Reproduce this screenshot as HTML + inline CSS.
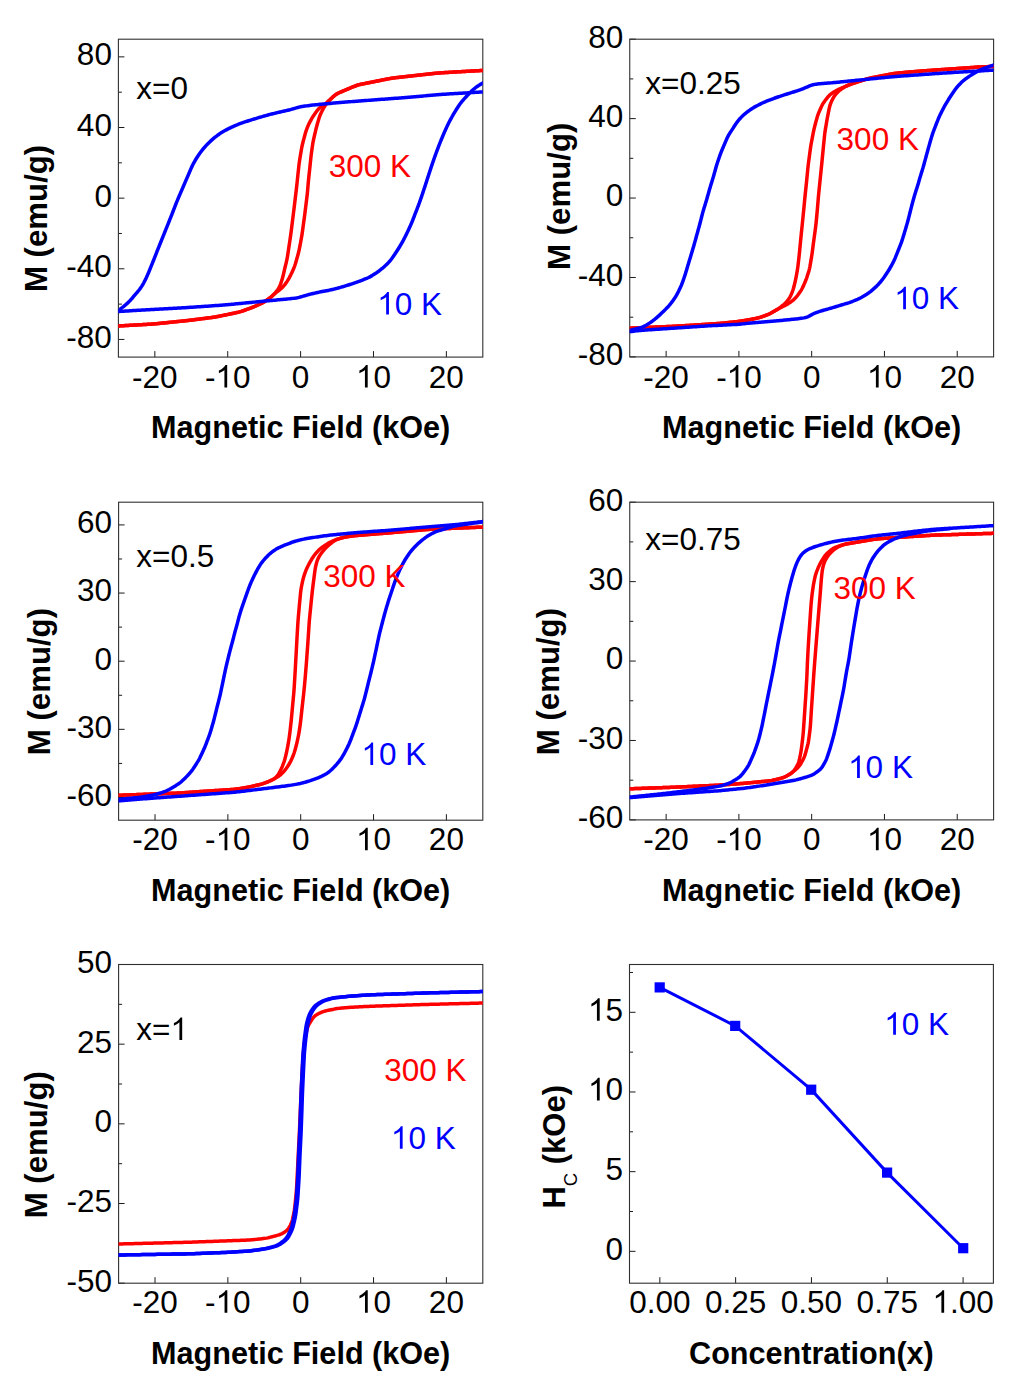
<!DOCTYPE html>
<html><head><meta charset="utf-8"><title>Hysteresis loops</title>
<style>html,body{margin:0;padding:0;background:#fff;overflow:hidden}svg{display:block}</style>
</head><body>
<svg width="1015" height="1384" viewBox="0 0 1015 1384">
<style>.r{font-kerning:none;font-family:"Liberation Sans",sans-serif;font-size:31.50px}.b{font-family:"Liberation Sans",sans-serif;font-size:30.60px;font-weight:bold}</style>
<rect width="1015" height="1384" fill="#fff"/>
<clipPath id="c1"><rect x="118.40" y="39.20" width="364.40" height="317.90"/></clipPath>
<path d="M154.84,357.10V351.10M227.72,357.10V351.10M300.60,357.10V351.10M373.48,357.10V351.10M446.36,357.10V351.10M118.40,56.86H124.40M118.40,127.51H124.40M118.40,198.15H124.40M118.40,268.79H124.40M118.40,339.44H124.40M118.40,92.18H121.90M118.40,162.83H121.90M118.40,233.47H121.90M118.40,304.12H121.90" stroke="#1a1a1a" stroke-width="1" fill="none"/>
<rect x="118.40" y="39.20" width="364.40" height="317.90" fill="none" stroke="#303030" stroke-width="1.1"/>
<text x="132.08" y="387.60" class="r" fill="#000" xml:space="preserve">-20</text>
<text x="204.96" y="387.60" class="r" fill="#000">-</text><path d="M763,0L583,0L583,1147C540,1106 483,1064 413,1023C343,982 280,951 224,930L224,1104C325,1151 413,1208 489,1274C565,1340 619,1404 650,1466L763,1466Z" fill="#000" transform="translate(215.45,387.60) scale(0.015381,-0.015381)"/><text x="232.96" y="387.60" class="r" fill="#000" xml:space="preserve">0</text>
<text x="291.84" y="387.60" class="r" fill="#000" xml:space="preserve">0</text>
<path d="M763,0L583,0L583,1147C540,1106 483,1064 413,1023C343,982 280,951 224,930L224,1104C325,1151 413,1208 489,1274C565,1340 619,1404 650,1466L763,1466Z" fill="#000" transform="translate(355.96,387.60) scale(0.015381,-0.015381)"/><text x="373.48" y="387.60" class="r" fill="#000" xml:space="preserve">0</text>
<text x="428.84" y="387.60" class="r" fill="#000" xml:space="preserve">20</text>
<text x="76.86" y="65.26" class="r" fill="#000" xml:space="preserve">80</text>
<text x="76.86" y="135.91" class="r" fill="#000" xml:space="preserve">40</text>
<text x="94.38" y="206.55" class="r" fill="#000" xml:space="preserve">0</text>
<text x="66.37" y="277.19" class="r" fill="#000" xml:space="preserve">-40</text>
<text x="66.37" y="347.84" class="r" fill="#000" xml:space="preserve">-80</text>
<path d="M483.00,70.40 L481.50,70.49 L480.00,70.57 L478.50,70.66 L477.00,70.74 L475.51,70.83 L474.01,70.92 L472.51,71.00 L471.01,71.09 L469.51,71.18 L468.01,71.26 L466.51,71.35 L465.01,71.43 L463.52,71.52 L462.02,71.61 L460.52,71.69 L459.02,71.78 L457.52,71.87 L456.02,71.95 L454.52,72.04 L453.02,72.12 L451.52,72.21 L450.03,72.30 L448.53,72.38 L447.03,72.47 L445.53,72.56 L444.03,72.64 L442.53,72.73 L441.03,72.82 L439.54,72.92 L438.04,73.03 L436.54,73.17 L435.05,73.31 L433.56,73.47 L432.07,73.64 L430.57,73.80 L429.08,73.97 L427.59,74.13 L426.10,74.30 L424.60,74.47 L423.11,74.63 L421.62,74.80 L420.13,74.96 L418.64,75.13 L417.14,75.30 L415.65,75.46 L414.16,75.63 L412.67,75.79 L411.18,75.96 L409.68,76.12 L408.19,76.29 L406.70,76.46 L405.21,76.62 L403.72,76.79 L402.22,76.95 L400.73,77.12 L399.24,77.28 L397.75,77.45 L396.26,77.62 L394.76,77.79 L393.28,77.99 L391.79,78.20 L390.31,78.45 L388.84,78.72 L387.36,79.01 L385.89,79.30 L384.42,79.60 L382.95,79.89 L381.47,80.19 L380.00,80.48 L378.53,80.77 L377.06,81.07 L375.59,81.36 L374.11,81.66 L372.64,81.95 L371.17,82.25 L369.70,82.54 L368.23,82.83 L366.75,83.13 L365.28,83.42 L363.81,83.72 L362.34,84.02 L360.87,84.32 L359.41,84.66 L357.96,85.04 L356.54,85.49 L355.13,86.00 L353.74,86.55 L352.35,87.12 L350.97,87.70 L349.59,88.29 L348.20,88.87 L346.82,89.45 L345.43,90.03 L344.05,90.61 L342.67,91.20 L341.28,91.78 L339.91,92.37 L338.55,92.99 L337.23,93.68 L335.97,94.45 L334.78,95.33 L333.65,96.30 L332.55,97.31 L331.46,98.34 L330.37,99.37 L329.28,100.40 L328.16,101.40 L327.02,102.37 L325.84,103.29 L324.63,104.18 L323.41,105.04 L322.18,105.90 L320.98,106.78 L319.82,107.71 L318.75,108.73 L317.76,109.84 L316.84,111.00 L315.94,112.21 L315.07,113.42 L314.21,114.65 L313.37,115.90 L312.58,117.17 L311.82,118.46 L311.08,119.77 L310.37,121.08 L309.67,122.41 L308.99,123.75 L308.35,125.11 L307.76,126.48 L307.19,127.87 L306.66,129.27 L306.16,130.69 L305.70,132.11 L305.28,133.55 L304.88,135.00 L304.49,136.45 L304.11,137.90 L303.73,139.35 L303.34,140.80 L302.97,142.26 L302.60,143.71 L302.25,145.17 L301.94,146.64 L301.65,148.11 L301.39,149.59 L301.13,151.07 L300.89,152.55 L300.64,154.03 L300.39,155.51 L300.14,156.99 L299.90,158.47 L299.66,159.95 L299.44,161.44 L299.23,162.92 L299.05,164.41 L298.87,165.90 L298.71,167.39 L298.54,168.89 L298.38,170.38 L298.22,171.87 L298.06,173.36 L297.90,174.86 L297.75,176.35 L297.59,177.84 L297.43,179.34 L297.28,180.83 L297.12,182.32 L296.96,183.82 L296.80,185.31 L296.64,186.80 L296.47,188.29 L296.30,189.78 L296.12,191.28 L295.94,192.77 L295.76,194.26 L295.58,195.75 L295.40,197.24 L295.22,198.73 L295.04,200.22 L294.86,201.71 L294.68,203.20 L294.50,204.69 L294.32,206.18 L294.14,207.67 L293.96,209.16 L293.78,210.65 L293.59,212.14 L293.41,213.63 L293.22,215.12 L293.03,216.61 L292.85,218.10 L292.66,219.59 L292.47,221.08 L292.28,222.57 L292.10,224.06 L291.91,225.55 L291.72,227.04 L291.54,228.53 L291.35,230.02 L291.16,231.51 L290.96,232.99 L290.76,234.48 L290.54,235.97 L290.33,237.45 L290.11,238.94 L289.89,240.42 L289.67,241.91 L289.45,243.39 L289.23,244.88 L289.01,246.36 L288.79,247.85 L288.57,249.33 L288.35,250.82 L288.12,252.30 L287.89,253.79 L287.66,255.27 L287.42,256.75 L287.16,258.23 L286.87,259.70 L286.56,261.17 L286.22,262.63 L285.86,264.09 L285.50,265.54 L285.14,267.00 L284.79,268.46 L284.45,269.92 L284.11,271.39 L283.78,272.85 L283.44,274.31 L283.09,275.77 L282.71,277.22 L282.31,278.67 L281.88,280.11 L281.44,281.54 L280.98,282.97 L280.47,284.37 L279.90,285.75 L279.24,287.08 L278.50,288.37 L277.69,289.63 L276.84,290.85 L275.93,292.04 L274.96,293.17 L273.94,294.26 L272.87,295.31 L271.77,296.33 L270.63,297.30 L269.46,298.23 L268.26,299.13 L267.03,299.99 L265.79,300.84 L264.53,301.64 L263.24,302.38 L261.91,303.08 L260.56,303.74 L259.21,304.38 L257.85,305.01 L256.48,305.64 L255.11,306.25 L253.73,306.83 L252.34,307.39 L250.94,307.93 L249.53,308.44 L248.12,308.96 L246.71,309.47 L245.29,309.98 L243.88,310.49 L242.46,310.98 L241.04,311.44 L239.60,311.86 L238.15,312.24 L236.69,312.57 L235.22,312.89 L233.75,313.20 L232.29,313.51 L230.82,313.81 L229.35,314.12 L227.88,314.42 L226.41,314.73 L224.94,315.04 L223.47,315.34 L222.00,315.65 L220.53,315.95 L219.06,316.25 L217.58,316.54 L216.11,316.82 L214.63,317.06 L213.14,317.28 L211.66,317.49 L210.17,317.68 L208.68,317.87 L207.19,318.06 L205.70,318.25 L204.21,318.44 L202.72,318.63 L201.23,318.82 L199.74,319.01 L198.26,319.20 L196.77,319.39 L195.28,319.58 L193.79,319.77 L192.30,319.96 L190.81,320.15 L189.32,320.33 L187.83,320.50 L186.33,320.66 L184.84,320.81 L183.35,320.96 L181.85,321.12 L180.36,321.27 L178.87,321.42 L177.37,321.57 L175.88,321.72 L174.39,321.88 L172.89,322.03 L171.40,322.18 L169.90,322.33 L168.41,322.48 L166.92,322.64 L165.42,322.79 L163.93,322.94 L162.44,323.09 L160.94,323.24 L159.45,323.39 L157.96,323.55 L156.46,323.69 L154.97,323.83 L153.47,323.96 L151.97,324.07 L150.48,324.16 L148.98,324.25 L147.48,324.34 L145.98,324.42 L144.48,324.51 L142.98,324.59 L141.48,324.68 L139.98,324.76 L138.49,324.85 L136.99,324.93 L135.49,325.01 L133.99,325.10 L132.49,325.18 L130.99,325.27 L129.49,325.35 L127.99,325.44 L126.49,325.52 L125.00,325.61 L123.50,325.69 L122.00,325.77 L120.50,325.86 L119.00,325.94 L118.00,326.00" stroke="#ff0000" stroke-width="3.5" fill="none" stroke-linejoin="round" stroke-linecap="round" clip-path="url(#c1)"/>
<path d="M118.00,326.00 L119.50,325.92 L121.00,325.83 L122.49,325.75 L123.99,325.66 L125.49,325.58 L126.99,325.49 L128.48,325.41 L129.98,325.33 L131.48,325.24 L132.98,325.16 L134.47,325.07 L135.97,324.99 L137.47,324.90 L138.97,324.82 L140.46,324.73 L141.96,324.65 L143.46,324.57 L144.96,324.48 L146.46,324.40 L147.95,324.31 L149.45,324.23 L150.95,324.14 L152.44,324.03 L153.94,323.92 L155.43,323.79 L156.93,323.65 L158.42,323.50 L159.91,323.35 L161.40,323.20 L162.90,323.04 L164.39,322.89 L165.88,322.74 L167.37,322.59 L168.87,322.44 L170.36,322.29 L171.85,322.13 L173.34,321.98 L174.83,321.83 L176.33,321.68 L177.82,321.53 L179.31,321.38 L180.80,321.22 L182.30,321.07 L183.79,320.92 L185.28,320.77 L186.77,320.61 L188.26,320.45 L189.75,320.27 L191.24,320.09 L192.73,319.91 L194.22,319.72 L195.71,319.53 L197.20,319.34 L198.68,319.15 L200.17,318.96 L201.66,318.77 L203.15,318.58 L204.63,318.39 L206.12,318.20 L207.61,318.01 L209.10,317.82 L210.59,317.63 L212.07,317.43 L213.56,317.22 L215.04,317.00 L216.52,316.74 L217.99,316.47 L219.46,316.17 L220.93,315.87 L222.40,315.56 L223.87,315.26 L225.34,314.95 L226.80,314.65 L228.27,314.34 L229.74,314.04 L231.21,313.73 L232.68,313.42 L234.15,313.12 L235.61,312.81 L237.08,312.49 L238.54,312.14 L239.98,311.76 L241.41,311.33 L242.84,310.85 L244.25,310.36 L245.66,309.85 L247.07,309.34 L248.48,308.83 L249.89,308.31 L251.30,307.79 L252.70,307.25 L254.08,306.69 L255.46,306.09 L256.83,305.48 L258.19,304.85 L259.55,304.22 L260.90,303.57 L262.24,302.91 L263.56,302.20 L264.85,301.44 L266.10,300.63 L267.34,299.78 L268.55,298.91 L269.75,298.01 L270.91,297.07 L272.04,296.09 L273.15,295.08 L274.25,294.07 L275.38,293.09 L276.55,292.16 L277.74,291.27 L278.95,290.39 L280.12,289.47 L281.23,288.49 L282.30,287.45 L283.32,286.35 L284.29,285.23 L285.23,284.06 L286.11,282.85 L286.94,281.61 L287.74,280.34 L288.51,279.06 L289.26,277.76 L289.97,276.44 L290.65,275.11 L291.30,273.76 L291.94,272.40 L292.57,271.04 L293.19,269.67 L293.78,268.30 L294.33,266.91 L294.84,265.50 L295.30,264.08 L295.73,262.64 L296.15,261.20 L296.57,259.76 L296.97,258.32 L297.37,256.87 L297.77,255.42 L298.16,253.98 L298.53,252.52 L298.88,251.07 L299.21,249.60 L299.51,248.13 L299.79,246.66 L300.07,245.19 L300.35,243.71 L300.63,242.24 L300.90,240.77 L301.18,239.29 L301.44,237.81 L301.70,236.34 L301.93,234.86 L302.15,233.37 L302.37,231.89 L302.57,230.40 L302.78,228.92 L302.98,227.43 L303.19,225.94 L303.39,224.46 L303.60,222.97 L303.80,221.49 L304.01,220.00 L304.21,218.51 L304.42,217.03 L304.61,215.54 L304.81,214.05 L305.00,212.57 L305.18,211.08 L305.37,209.59 L305.55,208.10 L305.73,206.61 L305.92,205.12 L306.10,203.63 L306.28,202.15 L306.47,200.66 L306.65,199.17 L306.83,197.68 L307.01,196.19 L307.19,194.70 L307.35,193.21 L307.50,191.72 L307.64,190.22 L307.77,188.73 L307.89,187.23 L308.02,185.74 L308.14,184.24 L308.27,182.75 L308.41,181.26 L308.55,179.76 L308.70,178.27 L308.86,176.78 L309.02,175.29 L309.18,173.80 L309.34,172.31 L309.51,170.81 L309.66,169.32 L309.82,167.83 L309.98,166.34 L310.13,164.85 L310.28,163.35 L310.44,161.86 L310.59,160.37 L310.75,158.88 L310.91,157.39 L311.08,155.90 L311.26,154.41 L311.45,152.92 L311.65,151.43 L311.86,149.95 L312.06,148.46 L312.27,146.98 L312.48,145.49 L312.71,144.01 L312.96,142.53 L313.25,141.06 L313.56,139.60 L313.88,138.13 L314.22,136.67 L314.55,135.21 L314.89,133.75 L315.23,132.28 L315.57,130.82 L315.91,129.36 L316.28,127.91 L316.66,126.46 L317.06,125.01 L317.47,123.57 L317.88,122.13 L318.30,120.69 L318.73,119.25 L319.17,117.82 L319.65,116.40 L320.18,115.01 L320.77,113.64 L321.41,112.28 L322.07,110.93 L322.76,109.60 L323.47,108.29 L324.23,106.99 L325.02,105.72 L325.85,104.49 L326.74,103.29 L327.69,102.14 L328.71,101.05 L329.76,99.98 L330.84,98.94 L331.92,97.90 L333.01,96.88 L334.12,95.88 L335.27,94.95 L336.49,94.11 L337.77,93.38 L339.11,92.73 L340.48,92.13 L341.86,91.54 L343.24,90.96 L344.62,90.37 L346.00,89.79 L347.39,89.21 L348.77,88.63 L350.15,88.05 L351.54,87.47 L352.92,86.89 L354.31,86.32 L355.70,85.78 L357.11,85.30 L358.55,84.88 L360.00,84.52 L361.46,84.20 L362.93,83.90 L364.40,83.60 L365.87,83.31 L367.34,83.01 L368.81,82.72 L370.28,82.42 L371.75,82.13 L373.23,81.83 L374.70,81.54 L376.17,81.25 L377.64,80.95 L379.11,80.66 L380.58,80.36 L382.05,80.07 L383.52,79.78 L384.99,79.48 L386.46,79.19 L387.93,78.90 L389.41,78.62 L390.88,78.35 L392.36,78.12 L393.85,77.91 L395.34,77.73 L396.83,77.55 L398.32,77.39 L399.81,77.22 L401.30,77.06 L402.79,76.89 L404.28,76.72 L405.77,76.56 L407.26,76.39 L408.75,76.23 L410.24,76.06 L411.73,75.90 L413.22,75.73 L414.72,75.56 L416.21,75.40 L417.70,75.23 L419.19,75.07 L420.68,74.90 L422.17,74.74 L423.66,74.57 L425.15,74.41 L426.64,74.24 L428.13,74.07 L429.62,73.91 L431.11,73.74 L432.61,73.58 L434.10,73.42 L435.59,73.26 L437.08,73.12 L438.58,72.99 L440.07,72.88 L441.57,72.79 L443.07,72.70 L444.56,72.61 L446.06,72.52 L447.56,72.44 L449.06,72.35 L450.55,72.27 L452.05,72.18 L453.55,72.09 L455.05,72.01 L456.54,71.92 L458.04,71.84 L459.54,71.75 L461.04,71.66 L462.53,71.58 L464.03,71.49 L465.53,71.40 L467.03,71.32 L468.52,71.23 L470.02,71.15 L471.52,71.06 L473.02,70.97 L474.51,70.89 L476.01,70.80 L477.51,70.72 L479.01,70.63 L480.50,70.54 L482.00,70.46 L483.00,70.40" stroke="#ff0000" stroke-width="3.5" fill="none" stroke-linejoin="round" stroke-linecap="round" clip-path="url(#c1)"/>
<path d="M483.00,91.90 L481.50,91.99 L480.01,92.08 L478.51,92.17 L477.01,92.26 L475.51,92.34 L474.02,92.43 L472.52,92.52 L471.02,92.61 L469.52,92.70 L468.03,92.79 L466.53,92.88 L465.03,92.97 L463.53,93.06 L462.04,93.15 L460.54,93.23 L459.04,93.32 L457.54,93.41 L456.05,93.50 L454.55,93.59 L453.05,93.68 L451.55,93.77 L450.06,93.86 L448.56,93.95 L447.06,94.04 L445.56,94.13 L444.07,94.22 L442.57,94.33 L441.07,94.45 L439.58,94.57 L438.08,94.70 L436.59,94.83 L435.10,94.96 L433.60,95.09 L432.11,95.22 L430.61,95.35 L429.12,95.48 L427.62,95.61 L426.13,95.75 L424.63,95.88 L423.14,96.01 L421.65,96.14 L420.15,96.27 L418.66,96.40 L417.16,96.53 L415.67,96.66 L414.17,96.79 L412.68,96.93 L411.19,97.06 L409.69,97.19 L408.20,97.32 L406.70,97.45 L405.21,97.57 L403.71,97.69 L402.22,97.80 L400.72,97.92 L399.22,98.03 L397.73,98.14 L396.23,98.25 L394.74,98.36 L393.24,98.47 L391.74,98.58 L390.25,98.70 L388.75,98.81 L387.26,98.92 L385.76,99.03 L384.26,99.14 L382.77,99.25 L381.27,99.36 L379.78,99.47 L378.28,99.58 L376.78,99.70 L375.29,99.81 L373.79,99.92 L372.30,100.03 L370.80,100.14 L369.30,100.25 L367.81,100.37 L366.31,100.48 L364.82,100.60 L363.32,100.71 L361.82,100.83 L360.33,100.94 L358.83,101.06 L357.34,101.17 L355.84,101.29 L354.35,101.40 L352.85,101.51 L351.35,101.63 L349.86,101.74 L348.36,101.86 L346.87,101.97 L345.37,102.09 L343.88,102.20 L342.38,102.32 L340.89,102.44 L339.39,102.57 L337.90,102.70 L336.40,102.84 L334.91,102.97 L333.41,103.11 L331.92,103.25 L330.43,103.39 L328.93,103.53 L327.44,103.67 L325.95,103.81 L324.45,103.94 L322.96,104.08 L321.47,104.22 L319.97,104.36 L318.48,104.50 L316.98,104.64 L315.49,104.78 L314.00,104.93 L312.51,105.09 L311.02,105.27 L309.53,105.46 L308.04,105.66 L306.56,105.87 L305.07,106.08 L303.59,106.30 L302.11,106.54 L300.64,106.82 L299.18,107.14 L297.73,107.52 L296.29,107.92 L294.85,108.34 L293.41,108.77 L291.97,109.18 L290.52,109.57 L289.07,109.94 L287.61,110.30 L286.15,110.64 L284.69,110.97 L283.23,111.30 L281.76,111.64 L280.30,111.98 L278.84,112.32 L277.38,112.66 L275.92,113.01 L274.46,113.35 L273.00,113.70 L271.54,114.06 L270.09,114.42 L268.64,114.81 L267.19,115.20 L265.75,115.61 L264.31,116.02 L262.86,116.43 L261.42,116.84 L259.98,117.26 L258.54,117.68 L257.11,118.11 L255.67,118.55 L254.23,118.98 L252.80,119.42 L251.37,119.86 L249.93,120.31 L248.51,120.77 L247.08,121.24 L245.66,121.71 L244.24,122.20 L242.82,122.68 L241.40,123.18 L239.99,123.68 L238.59,124.21 L237.19,124.76 L235.81,125.34 L234.44,125.94 L233.07,126.55 L231.70,127.17 L230.34,127.80 L228.99,128.45 L227.66,129.13 L226.34,129.84 L225.02,130.56 L223.72,131.30 L222.42,132.05 L221.14,132.83 L219.88,133.64 L218.66,134.50 L217.45,135.39 L216.26,136.30 L215.08,137.23 L213.92,138.18 L212.79,139.15 L211.66,140.15 L210.56,141.16 L209.46,142.19 L208.39,143.23 L207.34,144.30 L206.30,145.39 L205.29,146.49 L204.29,147.61 L203.32,148.75 L202.37,149.91 L201.44,151.09 L200.54,152.28 L199.65,153.49 L198.79,154.72 L197.95,155.96 L197.14,157.22 L196.34,158.49 L195.57,159.77 L194.82,161.07 L194.09,162.38 L193.38,163.70 L192.69,165.03 L192.03,166.38 L191.40,167.74 L190.79,169.11 L190.21,170.49 L189.62,171.87 L189.03,173.25 L188.44,174.63 L187.84,176.00 L187.24,177.38 L186.64,178.75 L186.05,180.13 L185.45,181.51 L184.86,182.88 L184.27,184.26 L183.68,185.64 L183.10,187.02 L182.51,188.40 L181.91,189.78 L181.32,191.16 L180.73,192.54 L180.13,193.91 L179.54,195.29 L178.95,196.67 L178.36,198.05 L177.78,199.43 L177.19,200.82 L176.62,202.20 L176.06,203.59 L175.51,204.99 L174.97,206.39 L174.43,207.79 L173.90,209.19 L173.36,210.59 L172.81,211.99 L172.27,213.38 L171.72,214.78 L171.17,216.18 L170.62,217.57 L170.07,218.97 L169.51,220.36 L168.96,221.75 L168.40,223.15 L167.84,224.54 L167.28,225.93 L166.72,227.32 L166.16,228.71 L165.60,230.10 L165.03,231.50 L164.47,232.89 L163.91,234.28 L163.35,235.67 L162.80,237.06 L162.24,238.45 L161.68,239.85 L161.12,241.24 L160.56,242.63 L160.00,244.02 L159.44,245.41 L158.88,246.80 L158.32,248.20 L157.76,249.59 L157.21,250.98 L156.66,252.38 L156.12,253.78 L155.57,255.18 L155.03,256.57 L154.48,257.97 L153.92,259.36 L153.36,260.75 L152.80,262.15 L152.24,263.54 L151.68,264.93 L151.12,266.32 L150.56,267.71 L150.00,269.10 L149.44,270.49 L148.87,271.88 L148.29,273.27 L147.70,274.64 L147.09,276.02 L146.47,277.38 L145.84,278.74 L145.19,280.09 L144.51,281.43 L143.80,282.75 L143.06,284.05 L142.29,285.34 L141.50,286.61 L140.68,287.86 L139.80,289.07 L138.88,290.25 L137.92,291.40 L136.95,292.53 L135.97,293.67 L134.99,294.81 L134.02,295.95 L133.06,297.11 L132.10,298.26 L131.13,299.39 L130.13,300.51 L129.10,301.59 L128.03,302.65 L126.93,303.67 L125.81,304.66 L124.66,305.62 L123.50,306.57 L122.33,307.51 L121.15,308.44 L119.97,309.36 L118.79,310.29 L118.00,310.90" stroke="#0000ff" stroke-width="3.5" fill="none" stroke-linejoin="round" stroke-linecap="round" clip-path="url(#c1)"/>
<path d="M118.00,311.50 L119.50,311.41 L121.00,311.32 L122.49,311.23 L123.99,311.14 L125.49,311.06 L126.99,310.97 L128.48,310.88 L129.98,310.79 L131.48,310.70 L132.98,310.61 L134.48,310.52 L135.97,310.43 L137.47,310.34 L138.97,310.25 L140.47,310.17 L141.97,310.08 L143.46,309.99 L144.96,309.90 L146.46,309.81 L147.96,309.72 L149.45,309.64 L150.95,309.55 L152.45,309.47 L153.95,309.38 L155.45,309.30 L156.94,309.22 L158.44,309.13 L159.94,309.05 L161.44,308.97 L162.94,308.89 L164.44,308.80 L165.93,308.72 L167.43,308.64 L168.93,308.55 L170.43,308.47 L171.93,308.39 L173.42,308.31 L174.92,308.22 L176.42,308.14 L177.92,308.06 L179.42,307.97 L180.92,307.89 L182.41,307.81 L183.91,307.73 L185.41,307.64 L186.91,307.55 L188.41,307.46 L189.90,307.37 L191.40,307.27 L192.90,307.16 L194.39,307.06 L195.89,306.96 L197.39,306.86 L198.88,306.75 L200.38,306.65 L201.88,306.55 L203.38,306.44 L204.87,306.34 L206.37,306.24 L207.87,306.14 L209.36,306.03 L210.86,305.93 L212.36,305.83 L213.85,305.72 L215.35,305.62 L216.85,305.52 L218.34,305.42 L219.84,305.31 L221.34,305.21 L222.83,305.10 L224.33,304.98 L225.83,304.85 L227.32,304.71 L228.81,304.57 L230.31,304.43 L231.80,304.29 L233.29,304.14 L234.79,304.00 L236.28,303.85 L237.77,303.71 L239.27,303.56 L240.76,303.42 L242.26,303.28 L243.75,303.13 L245.24,302.99 L246.74,302.84 L248.23,302.70 L249.72,302.56 L251.22,302.41 L252.71,302.27 L254.20,302.12 L255.70,301.98 L257.19,301.83 L258.68,301.69 L260.18,301.55 L261.67,301.40 L263.16,301.26 L264.66,301.11 L266.15,300.97 L267.65,300.83 L269.14,300.69 L270.63,300.55 L272.13,300.41 L273.62,300.27 L275.12,300.14 L276.61,300.00 L278.10,299.86 L279.60,299.72 L281.09,299.58 L282.59,299.45 L284.08,299.31 L285.57,299.17 L287.07,299.03 L288.56,298.88 L290.05,298.72 L291.54,298.55 L293.03,298.37 L294.52,298.18 L296.00,297.96 L297.47,297.69 L298.93,297.37 L300.38,296.99 L301.82,296.58 L303.26,296.16 L304.70,295.73 L306.14,295.31 L307.58,294.89 L309.03,294.50 L310.48,294.13 L311.94,293.78 L313.40,293.43 L314.86,293.10 L316.33,292.77 L317.79,292.44 L319.26,292.12 L320.72,291.82 L322.20,291.53 L323.67,291.25 L325.15,290.98 L326.62,290.71 L328.10,290.43 L329.56,290.13 L331.03,289.80 L332.49,289.46 L333.95,289.10 L335.40,288.73 L336.85,288.36 L338.31,287.98 L339.75,287.59 L341.20,287.18 L342.64,286.75 L344.07,286.32 L345.51,285.88 L346.94,285.44 L348.37,284.99 L349.80,284.53 L351.22,284.06 L352.65,283.58 L354.07,283.10 L355.49,282.61 L356.90,282.12 L358.32,281.62 L359.73,281.10 L361.13,280.57 L362.53,280.03 L363.92,279.48 L365.31,278.92 L366.70,278.35 L368.07,277.74 L369.41,277.09 L370.73,276.38 L372.02,275.62 L373.29,274.83 L374.56,274.02 L375.81,273.20 L377.05,272.36 L378.27,271.48 L379.46,270.58 L380.65,269.67 L381.83,268.74 L382.99,267.79 L384.12,266.81 L385.23,265.80 L386.31,264.76 L387.37,263.71 L388.42,262.63 L389.43,261.53 L390.39,260.39 L391.32,259.21 L392.21,258.01 L393.08,256.79 L393.94,255.56 L394.79,254.32 L395.62,253.07 L396.44,251.81 L397.24,250.55 L398.05,249.28 L398.84,248.01 L399.62,246.73 L400.39,245.44 L401.15,244.14 L401.89,242.84 L402.63,241.53 L403.35,240.22 L404.05,238.89 L404.74,237.56 L405.41,236.22 L406.08,234.88 L406.74,233.53 L407.39,232.18 L408.04,230.82 L408.67,229.46 L409.30,228.10 L409.92,226.73 L410.53,225.37 L411.14,223.99 L411.73,222.61 L412.30,221.23 L412.85,219.83 L413.39,218.43 L413.93,217.03 L414.47,215.63 L415.00,214.23 L415.55,212.83 L416.09,211.43 L416.64,210.04 L417.19,208.64 L417.73,207.24 L418.27,205.84 L418.79,204.43 L419.30,203.02 L419.80,201.61 L420.30,200.19 L420.79,198.78 L421.28,197.36 L421.77,195.94 L422.25,194.52 L422.72,193.09 L423.20,191.67 L423.67,190.25 L424.14,188.82 L424.60,187.39 L425.07,185.97 L425.54,184.54 L426.00,183.12 L426.46,181.69 L426.93,180.26 L427.39,178.83 L427.85,177.41 L428.31,175.98 L428.78,174.55 L429.24,173.12 L429.70,171.70 L430.16,170.27 L430.63,168.84 L431.10,167.42 L431.57,165.99 L432.05,164.57 L432.54,163.15 L433.03,161.74 L433.52,160.32 L434.01,158.90 L434.51,157.48 L435.01,156.07 L435.52,154.66 L436.04,153.25 L436.56,151.84 L437.09,150.44 L437.61,149.03 L438.14,147.63 L438.67,146.22 L439.21,144.82 L439.75,143.43 L440.31,142.03 L440.87,140.64 L441.44,139.25 L442.01,137.87 L442.58,136.48 L443.16,135.09 L443.75,133.72 L444.35,132.34 L444.96,130.97 L445.58,129.60 L446.20,128.24 L446.82,126.87 L447.45,125.51 L448.10,124.16 L448.78,122.82 L449.47,121.49 L450.18,120.17 L450.89,118.85 L451.61,117.53 L452.33,116.22 L453.07,114.91 L453.82,113.61 L454.59,112.32 L455.38,111.05 L456.18,109.78 L456.99,108.52 L457.80,107.26 L458.62,106.00 L459.46,104.76 L460.33,103.54 L461.24,102.36 L462.20,101.20 L463.17,100.06 L464.16,98.93 L465.15,97.81 L466.16,96.70 L467.18,95.59 L468.21,94.50 L469.25,93.43 L470.30,92.36 L471.36,91.30 L472.45,90.27 L473.56,89.27 L474.72,88.32 L475.91,87.42 L477.13,86.54 L478.36,85.69 L479.62,84.88 L480.91,84.12 L482.22,83.41 L483.55,82.72 L484.00,82.50" stroke="#0000ff" stroke-width="3.5" fill="none" stroke-linejoin="round" stroke-linecap="round" clip-path="url(#c1)"/>
<text transform="translate(47.20,218.40) rotate(-90)" text-anchor="middle" class="b" style="font-size:31.2px">M (emu/g)</text>
<text x="300.60" y="438.40" text-anchor="middle" class="b">Magnetic Field (kOe)</text>
<clipPath id="c2"><rect x="629.75" y="39.20" width="363.85" height="317.70"/></clipPath>
<path d="M666.13,356.90V350.90M738.90,356.90V350.90M811.67,356.90V350.90M884.44,356.90V350.90M957.22,356.90V350.90M629.75,39.20H635.75M629.75,118.62H635.75M629.75,198.05H635.75M629.75,277.47H635.75M629.75,356.90H635.75M629.75,78.91H633.25M629.75,158.34H633.25M629.75,237.76H633.25M629.75,317.19H633.25" stroke="#1a1a1a" stroke-width="1" fill="none"/>
<rect x="629.75" y="39.20" width="363.85" height="317.70" fill="none" stroke="#303030" stroke-width="1.1"/>
<text x="643.37" y="387.60" class="r" fill="#000" xml:space="preserve">-20</text>
<text x="716.14" y="387.60" class="r" fill="#000">-</text><path d="M763,0L583,0L583,1147C540,1106 483,1064 413,1023C343,982 280,951 224,930L224,1104C325,1151 413,1208 489,1274C565,1340 619,1404 650,1466L763,1466Z" fill="#000" transform="translate(726.63,387.60) scale(0.015381,-0.015381)"/><text x="744.15" y="387.60" class="r" fill="#000" xml:space="preserve">0</text>
<text x="802.92" y="387.60" class="r" fill="#000" xml:space="preserve">0</text>
<path d="M763,0L583,0L583,1147C540,1106 483,1064 413,1023C343,982 280,951 224,930L224,1104C325,1151 413,1208 489,1274C565,1340 619,1404 650,1466L763,1466Z" fill="#000" transform="translate(866.93,387.60) scale(0.015381,-0.015381)"/><text x="884.44" y="387.60" class="r" fill="#000" xml:space="preserve">0</text>
<text x="939.70" y="387.60" class="r" fill="#000" xml:space="preserve">20</text>
<text x="588.21" y="47.60" class="r" fill="#000" xml:space="preserve">80</text>
<text x="588.21" y="127.03" class="r" fill="#000" xml:space="preserve">40</text>
<text x="605.73" y="206.45" class="r" fill="#000" xml:space="preserve">0</text>
<text x="577.72" y="285.87" class="r" fill="#000" xml:space="preserve">-40</text>
<text x="577.72" y="365.30" class="r" fill="#000" xml:space="preserve">-80</text>
<path d="M994.00,66.40 L992.50,66.46 L991.00,66.51 L989.50,66.57 L988.00,66.63 L986.50,66.68 L985.00,66.74 L983.50,66.80 L982.00,66.87 L980.50,66.94 L979.01,67.03 L977.51,67.12 L976.01,67.22 L974.51,67.32 L973.02,67.43 L971.52,67.53 L970.02,67.63 L968.53,67.74 L967.03,67.84 L965.53,67.94 L964.03,68.04 L962.54,68.15 L961.04,68.25 L959.54,68.35 L958.04,68.46 L956.55,68.56 L955.05,68.66 L953.55,68.76 L952.06,68.87 L950.56,68.97 L949.06,69.07 L947.56,69.18 L946.07,69.28 L944.57,69.38 L943.07,69.49 L941.58,69.59 L940.08,69.70 L938.58,69.80 L937.08,69.90 L935.59,70.01 L934.09,70.11 L932.59,70.22 L931.10,70.32 L929.60,70.43 L928.10,70.53 L926.61,70.64 L925.11,70.74 L923.61,70.85 L922.11,70.96 L920.62,71.07 L919.12,71.19 L917.63,71.31 L916.13,71.44 L914.64,71.57 L913.14,71.70 L911.65,71.84 L910.15,71.97 L908.66,72.10 L907.16,72.23 L905.67,72.36 L904.17,72.49 L902.68,72.62 L901.18,72.76 L899.69,72.89 L898.19,73.03 L896.70,73.19 L895.21,73.37 L893.73,73.59 L892.25,73.85 L890.78,74.12 L889.30,74.40 L887.83,74.68 L886.36,74.96 L884.88,75.25 L883.41,75.53 L881.94,75.81 L880.46,76.10 L878.99,76.38 L877.51,76.67 L876.04,76.95 L874.57,77.23 L873.09,77.52 L871.62,77.81 L870.16,78.13 L868.70,78.48 L867.25,78.86 L865.82,79.29 L864.39,79.74 L862.96,80.20 L861.53,80.66 L860.10,81.12 L858.67,81.59 L857.25,82.05 L855.82,82.51 L854.39,82.98 L852.97,83.45 L851.55,83.94 L850.14,84.45 L848.75,85.00 L847.36,85.58 L845.98,86.17 L844.61,86.76 L843.23,87.36 L841.85,87.95 L840.48,88.56 L839.12,89.19 L837.78,89.85 L836.45,90.56 L835.15,91.29 L833.86,92.05 L832.59,92.84 L831.36,93.68 L830.21,94.60 L829.14,95.62 L828.15,96.72 L827.19,97.87 L826.26,99.05 L825.34,100.23 L824.44,101.43 L823.60,102.66 L822.82,103.93 L822.11,105.24 L821.46,106.59 L820.84,107.95 L820.23,109.32 L819.63,110.69 L819.03,112.07 L818.47,113.46 L817.94,114.86 L817.47,116.28 L817.04,117.71 L816.63,119.16 L816.24,120.61 L815.85,122.05 L815.46,123.50 L815.08,124.95 L814.70,126.41 L814.33,127.86 L813.99,129.32 L813.67,130.79 L813.37,132.26 L813.08,133.73 L812.80,135.20 L812.52,136.68 L812.23,138.15 L811.95,139.62 L811.67,141.10 L811.39,142.57 L811.13,144.05 L810.87,145.53 L810.64,147.01 L810.42,148.50 L810.22,149.98 L810.01,151.47 L809.81,152.96 L809.61,154.44 L809.41,155.93 L809.21,157.42 L809.01,158.91 L808.81,160.39 L808.62,161.88 L808.43,163.37 L808.24,164.86 L808.08,166.35 L807.92,167.84 L807.77,169.33 L807.62,170.83 L807.47,172.32 L807.33,173.82 L807.18,175.31 L807.03,176.80 L806.88,178.30 L806.74,179.79 L806.59,181.28 L806.44,182.78 L806.29,184.27 L806.13,185.76 L805.98,187.25 L805.82,188.75 L805.66,190.24 L805.50,191.73 L805.34,193.22 L805.19,194.72 L805.04,196.21 L804.89,197.70 L804.75,199.20 L804.60,200.69 L804.46,202.18 L804.32,203.68 L804.18,205.17 L804.03,206.67 L803.89,208.16 L803.74,209.65 L803.60,211.15 L803.45,212.64 L803.30,214.13 L803.15,215.63 L802.99,217.12 L802.84,218.61 L802.69,220.11 L802.54,221.60 L802.39,223.09 L802.24,224.59 L802.08,226.08 L801.93,227.57 L801.78,229.06 L801.63,230.56 L801.47,232.05 L801.32,233.54 L801.17,235.04 L801.02,236.53 L800.87,238.02 L800.72,239.52 L800.57,241.01 L800.43,242.50 L800.28,244.00 L800.14,245.49 L800.00,246.99 L799.86,248.48 L799.71,249.97 L799.57,251.47 L799.42,252.96 L799.26,254.45 L799.10,255.94 L798.94,257.44 L798.77,258.93 L798.60,260.42 L798.43,261.91 L798.25,263.40 L798.08,264.89 L797.90,266.38 L797.70,267.87 L797.49,269.35 L797.25,270.83 L796.99,272.31 L796.72,273.79 L796.44,275.26 L796.17,276.74 L795.88,278.21 L795.58,279.68 L795.27,281.15 L794.93,282.61 L794.57,284.06 L794.20,285.52 L793.82,286.97 L793.42,288.41 L792.98,289.85 L792.50,291.26 L791.96,292.66 L791.39,294.04 L790.78,295.41 L790.12,296.74 L789.39,298.04 L788.56,299.27 L787.65,300.44 L786.68,301.58 L785.66,302.67 L784.59,303.72 L783.49,304.73 L782.35,305.70 L781.19,306.65 L780.00,307.56 L778.78,308.42 L777.53,309.25 L776.26,310.04 L774.97,310.81 L773.68,311.57 L772.38,312.32 L771.07,313.05 L769.74,313.73 L768.38,314.35 L767.00,314.92 L765.60,315.45 L764.19,315.96 L762.77,316.46 L761.35,316.94 L759.92,317.38 L758.47,317.77 L757.02,318.12 L755.55,318.45 L754.09,318.77 L752.62,319.08 L751.15,319.38 L749.68,319.66 L748.20,319.93 L746.72,320.18 L745.24,320.43 L743.76,320.67 L742.28,320.90 L740.79,321.13 L739.31,321.33 L737.82,321.52 L736.33,321.70 L734.84,321.86 L733.35,322.02 L731.85,322.18 L730.36,322.34 L728.87,322.50 L727.38,322.66 L725.88,322.82 L724.39,322.98 L722.90,323.13 L721.41,323.27 L719.91,323.40 L718.41,323.51 L716.92,323.61 L715.42,323.71 L713.92,323.81 L712.42,323.91 L710.93,324.01 L709.43,324.10 L707.93,324.20 L706.43,324.30 L704.94,324.40 L703.44,324.50 L701.94,324.59 L700.44,324.69 L698.95,324.79 L697.45,324.88 L695.95,324.97 L694.45,325.07 L692.95,325.16 L691.46,325.25 L689.96,325.34 L688.46,325.43 L686.96,325.52 L685.47,325.61 L683.97,325.70 L682.47,325.80 L680.97,325.89 L679.47,325.98 L677.98,326.07 L676.48,326.15 L674.98,326.23 L673.48,326.31 L671.98,326.38 L670.48,326.45 L668.98,326.51 L667.48,326.58 L665.98,326.64 L664.48,326.71 L662.98,326.77 L661.49,326.84 L659.99,326.90 L658.49,326.97 L656.99,327.03 L655.49,327.10 L653.99,327.16 L652.49,327.23 L650.99,327.29 L649.49,327.36 L647.99,327.42 L646.49,327.49 L644.99,327.55 L643.49,327.62 L641.99,327.69 L640.49,327.75 L639.00,327.82 L637.50,327.88 L636.00,327.95 L634.50,328.01 L633.00,328.08 L631.50,328.14 L630.00,328.21 L629.00,328.25" stroke="#ff0000" stroke-width="3.5" fill="none" stroke-linejoin="round" stroke-linecap="round" clip-path="url(#c2)"/>
<path d="M629.00,328.25 L630.50,328.18 L632.00,328.12 L633.50,328.05 L635.00,327.99 L636.50,327.92 L638.00,327.86 L639.50,327.79 L641.00,327.73 L642.50,327.66 L644.00,327.60 L645.50,327.53 L647.00,327.47 L648.50,327.40 L650.00,327.34 L651.50,327.27 L653.00,327.21 L654.50,327.14 L656.00,327.08 L657.50,327.01 L659.00,326.95 L660.49,326.88 L661.99,326.82 L663.49,326.75 L664.99,326.69 L666.49,326.62 L667.99,326.55 L669.49,326.49 L670.99,326.42 L672.49,326.36 L673.99,326.28 L675.49,326.21 L676.99,326.12 L678.49,326.04 L679.99,325.95 L681.49,325.86 L682.98,325.76 L684.48,325.67 L685.98,325.58 L687.48,325.49 L688.98,325.40 L690.48,325.31 L691.97,325.22 L693.47,325.13 L694.97,325.03 L696.47,324.94 L697.97,324.85 L699.47,324.75 L700.96,324.66 L702.46,324.56 L703.96,324.46 L705.46,324.36 L706.96,324.27 L708.45,324.17 L709.95,324.07 L711.45,323.97 L712.95,323.88 L714.45,323.78 L715.94,323.68 L717.44,323.58 L718.94,323.47 L720.44,323.36 L721.93,323.22 L723.42,323.08 L724.92,322.93 L726.41,322.77 L727.90,322.61 L729.40,322.45 L730.89,322.29 L732.38,322.13 L733.87,321.97 L735.37,321.80 L736.86,321.64 L738.35,321.46 L739.84,321.26 L741.32,321.05 L742.80,320.82 L744.29,320.58 L745.77,320.34 L747.25,320.09 L748.73,319.83 L750.20,319.56 L751.67,319.27 L753.14,318.97 L754.61,318.66 L756.08,318.34 L757.54,318.00 L758.99,317.63 L760.43,317.22 L761.86,316.77 L763.28,316.28 L764.69,315.78 L766.10,315.26 L767.50,314.72 L768.87,314.13 L770.22,313.49 L771.55,312.79 L772.85,312.05 L774.15,311.30 L775.44,310.54 L776.74,309.78 L778.04,309.04 L779.36,308.32 L780.69,307.63 L782.03,306.96 L783.37,306.29 L784.71,305.61 L786.03,304.90 L787.34,304.16 L788.62,303.39 L789.88,302.59 L791.10,301.73 L792.28,300.81 L793.42,299.84 L794.53,298.83 L795.58,297.78 L796.58,296.67 L797.52,295.51 L798.41,294.31 L799.28,293.09 L800.13,291.85 L800.94,290.59 L801.70,289.30 L802.39,287.98 L803.04,286.63 L803.67,285.27 L804.28,283.90 L804.88,282.53 L805.46,281.14 L806.01,279.75 L806.53,278.34 L807.01,276.92 L807.47,275.49 L807.92,274.06 L808.37,272.63 L808.80,271.19 L809.19,269.75 L809.54,268.29 L809.85,266.82 L810.12,265.35 L810.38,263.87 L810.63,262.39 L810.88,260.91 L811.13,259.43 L811.38,257.95 L811.62,256.47 L811.86,254.99 L812.08,253.50 L812.29,252.02 L812.49,250.53 L812.68,249.04 L812.87,247.55 L813.07,246.06 L813.26,244.57 L813.45,243.08 L813.65,241.60 L813.84,240.11 L814.04,238.62 L814.24,237.13 L814.44,235.64 L814.65,234.16 L814.85,232.67 L815.05,231.18 L815.25,229.69 L815.45,228.21 L815.64,226.72 L815.83,225.23 L815.99,223.74 L816.15,222.24 L816.30,220.75 L816.44,219.26 L816.58,217.76 L816.72,216.27 L816.86,214.77 L817.00,213.28 L817.14,211.78 L817.28,210.29 L817.41,208.79 L817.53,207.30 L817.66,205.80 L817.78,204.30 L817.90,202.81 L818.02,201.31 L818.15,199.82 L818.27,198.32 L818.40,196.82 L818.54,195.33 L818.68,193.83 L818.83,192.34 L818.98,190.85 L819.14,189.35 L819.29,187.86 L819.45,186.37 L819.60,184.87 L819.76,183.38 L819.91,181.89 L820.06,180.40 L820.22,178.90 L820.37,177.41 L820.53,175.92 L820.68,174.42 L820.84,172.93 L820.99,171.44 L821.14,169.94 L821.29,168.45 L821.43,166.95 L821.58,165.46 L821.73,163.97 L821.88,162.47 L822.02,160.98 L822.17,159.48 L822.32,157.99 L822.46,156.50 L822.61,155.00 L822.76,153.51 L822.91,152.01 L823.05,150.52 L823.20,149.03 L823.35,147.53 L823.49,146.04 L823.64,144.54 L823.79,143.05 L823.93,141.56 L824.08,140.06 L824.23,138.57 L824.38,137.08 L824.53,135.58 L824.70,134.09 L824.89,132.60 L825.11,131.12 L825.34,129.64 L825.58,128.15 L825.83,126.67 L826.08,125.19 L826.33,123.71 L826.58,122.23 L826.84,120.75 L827.09,119.28 L827.36,117.80 L827.64,116.32 L827.92,114.85 L828.22,113.38 L828.52,111.91 L828.82,110.44 L829.12,108.97 L829.44,107.50 L829.81,106.05 L830.24,104.63 L830.75,103.23 L831.33,101.85 L831.95,100.49 L832.60,99.14 L833.30,97.82 L834.06,96.54 L834.91,95.32 L835.84,94.16 L836.83,93.04 L837.87,91.97 L838.96,90.96 L840.11,90.01 L841.31,89.12 L842.55,88.28 L843.81,87.48 L845.11,86.74 L846.44,86.05 L847.79,85.42 L849.17,84.83 L850.57,84.29 L851.98,83.79 L853.40,83.30 L854.83,82.84 L856.26,82.37 L857.68,81.91 L859.11,81.44 L860.54,80.98 L861.97,80.52 L863.40,80.06 L864.83,79.60 L866.26,79.16 L867.70,78.74 L869.15,78.36 L870.61,78.03 L872.08,77.72 L873.55,77.43 L875.02,77.14 L876.50,76.86 L877.97,76.58 L879.45,76.29 L880.92,76.01 L882.39,75.73 L883.87,75.44 L885.34,75.16 L886.82,74.87 L888.29,74.59 L889.77,74.31 L891.24,74.03 L892.72,73.76 L894.20,73.52 L895.68,73.31 L897.17,73.14 L898.66,72.99 L900.16,72.85 L901.65,72.71 L903.15,72.58 L904.64,72.45 L906.14,72.32 L907.63,72.19 L909.13,72.06 L910.63,71.92 L912.12,71.79 L913.62,71.66 L915.11,71.53 L916.61,71.40 L918.10,71.27 L919.60,71.15 L921.10,71.03 L922.59,70.92 L924.09,70.81 L925.59,70.71 L927.08,70.60 L928.58,70.50 L930.08,70.39 L931.58,70.29 L933.07,70.19 L934.57,70.08 L936.07,69.98 L937.57,69.87 L939.06,69.77 L940.56,69.66 L942.06,69.56 L943.56,69.45 L945.06,69.35 L946.55,69.25 L948.05,69.14 L949.55,69.04 L951.05,68.94 L952.54,68.83 L954.04,68.73 L955.54,68.63 L957.04,68.53 L958.53,68.42 L960.03,68.32 L961.53,68.22 L963.03,68.11 L964.52,68.01 L966.02,67.91 L967.52,67.81 L969.02,67.70 L970.51,67.60 L972.01,67.50 L973.51,67.39 L975.01,67.29 L976.51,67.19 L978.00,67.09 L979.50,67.00 L981.00,66.92 L982.50,66.84 L984.00,66.78 L985.50,66.72 L987.00,66.66 L988.50,66.61 L990.00,66.55 L991.50,66.49 L993.00,66.44 L994.00,66.40" stroke="#ff0000" stroke-width="3.5" fill="none" stroke-linejoin="round" stroke-linecap="round" clip-path="url(#c2)"/>
<path d="M994.00,70.10 L992.50,70.19 L991.00,70.27 L989.51,70.36 L988.01,70.45 L986.51,70.54 L985.01,70.62 L983.52,70.71 L982.02,70.80 L980.52,70.89 L979.02,70.97 L977.53,71.06 L976.03,71.15 L974.53,71.24 L973.03,71.32 L971.53,71.41 L970.04,71.50 L968.54,71.59 L967.04,71.67 L965.54,71.76 L964.05,71.85 L962.55,71.94 L961.05,72.02 L959.55,72.11 L958.06,72.20 L956.56,72.28 L955.06,72.37 L953.56,72.46 L952.06,72.55 L950.57,72.63 L949.07,72.72 L947.57,72.81 L946.07,72.90 L944.58,72.99 L943.08,73.09 L941.58,73.20 L940.09,73.30 L938.59,73.41 L937.09,73.51 L935.60,73.62 L934.10,73.72 L932.60,73.83 L931.11,73.94 L929.61,74.04 L928.11,74.15 L926.62,74.26 L925.12,74.36 L923.63,74.47 L922.13,74.57 L920.63,74.68 L919.14,74.79 L917.64,74.89 L916.14,75.00 L914.65,75.11 L913.15,75.21 L911.65,75.32 L910.16,75.42 L908.66,75.53 L907.16,75.64 L905.67,75.74 L904.17,75.85 L902.67,75.96 L901.18,76.06 L899.68,76.17 L898.19,76.28 L896.69,76.39 L895.19,76.51 L893.70,76.64 L892.21,76.78 L890.71,76.93 L889.22,77.08 L887.73,77.23 L886.23,77.38 L884.74,77.53 L883.25,77.68 L881.76,77.82 L880.26,77.97 L878.77,78.12 L877.28,78.27 L875.79,78.42 L874.29,78.57 L872.80,78.72 L871.31,78.87 L869.81,79.02 L868.32,79.17 L866.83,79.32 L865.34,79.47 L863.84,79.62 L862.35,79.76 L860.86,79.91 L859.36,80.06 L857.87,80.21 L856.38,80.36 L854.89,80.51 L853.39,80.66 L851.90,80.81 L850.41,80.96 L848.91,81.11 L847.42,81.26 L845.93,81.41 L844.44,81.56 L842.94,81.71 L841.45,81.85 L839.96,82.00 L838.47,82.15 L836.97,82.30 L835.48,82.45 L833.99,82.60 L832.49,82.74 L831.00,82.88 L829.50,83.00 L828.01,83.11 L826.51,83.21 L825.02,83.31 L823.52,83.41 L822.02,83.52 L820.53,83.64 L819.03,83.78 L817.54,83.95 L816.06,84.14 L814.59,84.38 L813.14,84.70 L811.72,85.12 L810.32,85.63 L808.94,86.20 L807.56,86.79 L806.18,87.38 L804.80,87.96 L803.41,88.53 L802.02,89.09 L800.62,89.64 L799.21,90.15 L797.80,90.63 L796.37,91.09 L794.94,91.54 L793.51,91.99 L792.07,92.43 L790.64,92.88 L789.21,93.33 L787.78,93.79 L786.35,94.24 L784.92,94.70 L783.49,95.16 L782.07,95.61 L780.64,96.07 L779.21,96.54 L777.79,97.02 L776.37,97.51 L774.96,98.02 L773.56,98.55 L772.16,99.08 L770.75,99.61 L769.35,100.15 L767.95,100.69 L766.56,101.24 L765.17,101.80 L763.79,102.40 L762.43,103.02 L761.08,103.67 L759.74,104.34 L758.39,105.01 L757.06,105.69 L755.73,106.38 L754.42,107.11 L753.14,107.88 L751.89,108.70 L750.65,109.55 L749.43,110.41 L748.21,111.29 L747.00,112.17 L745.81,113.08 L744.66,114.04 L743.55,115.03 L742.46,116.07 L741.40,117.12 L740.35,118.20 L739.34,119.30 L738.38,120.44 L737.48,121.63 L736.61,122.85 L735.78,124.09 L734.95,125.34 L734.12,126.59 L733.30,127.85 L732.47,129.10 L731.65,130.35 L730.82,131.61 L730.01,132.87 L729.22,134.14 L728.47,135.43 L727.78,136.76 L727.13,138.11 L726.51,139.47 L725.91,140.84 L725.31,142.22 L724.71,143.60 L724.12,144.98 L723.54,146.36 L722.95,147.74 L722.37,149.12 L721.80,150.51 L721.23,151.90 L720.68,153.29 L720.16,154.70 L719.66,156.11 L719.17,157.53 L718.69,158.95 L718.21,160.37 L717.73,161.79 L717.26,163.22 L716.81,164.65 L716.37,166.08 L715.96,167.52 L715.55,168.97 L715.15,170.41 L714.75,171.86 L714.36,173.30 L713.95,174.75 L713.54,176.19 L713.12,177.63 L712.68,179.07 L712.24,180.50 L711.80,181.93 L711.35,183.37 L710.91,184.80 L710.47,186.24 L710.05,187.67 L709.63,189.11 L709.22,190.56 L708.81,192.00 L708.40,193.44 L708.00,194.89 L707.59,196.33 L707.18,197.78 L706.77,199.22 L706.34,200.66 L705.91,202.09 L705.47,203.53 L705.02,204.96 L704.58,206.39 L704.13,207.83 L703.70,209.26 L703.27,210.70 L702.86,212.14 L702.47,213.59 L702.10,215.04 L701.73,216.50 L701.36,217.95 L701.00,219.41 L700.63,220.86 L700.25,222.31 L699.87,223.76 L699.48,225.21 L699.08,226.66 L698.69,228.10 L698.29,229.55 L697.89,231.00 L697.50,232.44 L697.10,233.89 L696.70,235.34 L696.30,236.78 L695.91,238.23 L695.51,239.68 L695.11,241.12 L694.70,242.57 L694.29,244.01 L693.88,245.45 L693.46,246.89 L693.04,248.33 L692.61,249.77 L692.19,251.21 L691.76,252.65 L691.33,254.09 L690.90,255.52 L690.46,256.96 L690.02,258.39 L689.59,259.83 L689.15,261.26 L688.71,262.70 L688.28,264.13 L687.85,265.57 L687.42,267.01 L687.00,268.45 L686.57,269.89 L686.15,271.33 L685.72,272.76 L685.27,274.20 L684.81,275.62 L684.34,277.05 L683.85,278.46 L683.36,279.88 L682.86,281.30 L682.35,282.71 L681.82,284.11 L681.26,285.50 L680.66,286.87 L680.02,288.23 L679.37,289.58 L678.71,290.92 L678.04,292.27 L677.36,293.60 L676.65,294.92 L675.89,296.21 L675.09,297.47 L674.24,298.70 L673.38,299.93 L672.50,301.15 L671.62,302.36 L670.72,303.56 L669.79,304.73 L668.82,305.87 L667.82,306.98 L666.78,308.06 L665.72,309.12 L664.66,310.18 L663.60,311.24 L662.53,312.29 L661.45,313.33 L660.35,314.35 L659.24,315.36 L658.11,316.35 L656.98,317.34 L655.85,318.32 L654.71,319.29 L653.55,320.23 L652.36,321.14 L651.14,322.01 L649.89,322.84 L648.63,323.65 L647.36,324.44 L646.07,325.21 L644.76,325.92 L643.42,326.57 L642.04,327.13 L640.63,327.63 L639.20,328.06 L637.75,328.45 L636.30,328.82 L634.84,329.17 L633.38,329.51 L631.92,329.86 L630.46,330.20 L629.00,330.55" stroke="#0000ff" stroke-width="3.5" fill="none" stroke-linejoin="round" stroke-linecap="round" clip-path="url(#c2)"/>
<path d="M629.00,331.75 L630.49,331.57 L631.98,331.40 L633.47,331.22 L634.96,331.05 L636.45,330.87 L637.95,330.71 L639.44,330.55 L640.93,330.42 L642.43,330.29 L643.92,330.18 L645.42,330.08 L646.92,329.98 L648.42,329.87 L649.91,329.77 L651.41,329.67 L652.91,329.56 L654.41,329.46 L655.90,329.36 L657.40,329.26 L658.90,329.15 L660.40,329.05 L661.89,328.95 L663.39,328.85 L664.89,328.74 L666.39,328.64 L667.88,328.54 L669.38,328.44 L670.88,328.33 L672.38,328.23 L673.87,328.13 L675.37,328.03 L676.87,327.93 L678.37,327.83 L679.87,327.73 L681.36,327.63 L682.86,327.53 L684.36,327.43 L685.86,327.34 L687.35,327.24 L688.85,327.14 L690.35,327.04 L691.85,326.94 L693.35,326.84 L694.84,326.75 L696.34,326.65 L697.84,326.55 L699.34,326.45 L700.84,326.35 L702.33,326.25 L703.83,326.16 L705.33,326.06 L706.83,325.96 L708.32,325.87 L709.82,325.78 L711.32,325.69 L712.82,325.61 L714.32,325.53 L715.82,325.46 L717.32,325.38 L718.82,325.30 L720.32,325.23 L721.81,325.15 L723.31,325.08 L724.81,325.00 L726.31,324.92 L727.81,324.85 L729.31,324.77 L730.81,324.70 L732.31,324.62 L733.81,324.54 L735.31,324.47 L736.80,324.38 L738.30,324.29 L739.80,324.17 L741.29,324.03 L742.78,323.88 L744.28,323.71 L745.77,323.54 L747.26,323.37 L748.75,323.21 L750.24,323.06 L751.74,322.92 L753.23,322.79 L754.73,322.66 L756.23,322.54 L757.72,322.42 L759.22,322.29 L760.71,322.17 L762.21,322.05 L763.71,321.93 L765.20,321.80 L766.70,321.68 L768.19,321.56 L769.69,321.44 L771.19,321.31 L772.68,321.19 L774.18,321.07 L775.67,320.95 L777.17,320.82 L778.66,320.69 L780.16,320.55 L781.65,320.41 L783.15,320.26 L784.64,320.11 L786.13,319.96 L787.63,319.81 L789.12,319.65 L790.61,319.50 L792.11,319.35 L793.60,319.20 L795.09,319.05 L796.59,318.89 L798.08,318.73 L799.57,318.55 L801.06,318.36 L802.54,318.14 L804.01,317.88 L805.46,317.54 L806.87,317.10 L808.24,316.54 L809.57,315.87 L810.88,315.16 L812.18,314.43 L813.51,313.75 L814.87,313.14 L816.26,312.59 L817.67,312.08 L819.09,311.61 L820.52,311.15 L821.96,310.72 L823.40,310.30 L824.84,309.89 L826.29,309.49 L827.73,309.08 L829.18,308.67 L830.62,308.25 L832.06,307.82 L833.49,307.39 L834.93,306.96 L836.37,306.52 L837.80,306.09 L839.24,305.65 L840.68,305.22 L842.12,304.80 L843.56,304.37 L845.00,303.94 L846.43,303.51 L847.86,303.06 L849.29,302.59 L850.70,302.09 L852.10,301.56 L853.50,301.00 L854.89,300.44 L856.28,299.87 L857.65,299.28 L859.01,298.65 L860.35,297.97 L861.66,297.25 L862.95,296.50 L864.24,295.72 L865.52,294.94 L866.80,294.15 L868.05,293.34 L869.28,292.48 L870.47,291.57 L871.62,290.62 L872.76,289.65 L873.89,288.66 L875.01,287.66 L876.11,286.64 L877.18,285.59 L878.21,284.51 L879.21,283.39 L880.19,282.26 L881.16,281.11 L882.11,279.95 L883.02,278.76 L883.91,277.55 L884.77,276.32 L885.60,275.08 L886.43,273.83 L887.25,272.57 L888.06,271.31 L888.86,270.04 L889.63,268.75 L890.38,267.45 L891.11,266.14 L891.84,264.83 L892.56,263.51 L893.25,262.18 L893.91,260.84 L894.53,259.47 L895.13,258.10 L895.70,256.71 L896.26,255.32 L896.82,253.92 L897.38,252.53 L897.93,251.14 L898.49,249.74 L899.04,248.35 L899.60,246.95 L900.15,245.56 L900.69,244.16 L901.23,242.76 L901.74,241.35 L902.22,239.93 L902.68,238.50 L903.12,237.06 L903.56,235.63 L903.99,234.19 L904.42,232.75 L904.85,231.32 L905.28,229.88 L905.71,228.44 L906.13,227.00 L906.55,225.56 L906.97,224.12 L907.39,222.67 L907.79,221.23 L908.17,219.78 L908.55,218.32 L908.92,216.87 L909.29,215.41 L909.65,213.96 L910.02,212.50 L910.39,211.05 L910.75,209.59 L911.12,208.14 L911.49,206.68 L911.86,205.23 L912.24,203.77 L912.62,202.32 L913.01,200.87 L913.42,199.43 L913.83,197.99 L914.25,196.55 L914.67,195.10 L915.10,193.67 L915.54,192.23 L915.99,190.80 L916.45,189.37 L916.91,187.94 L917.37,186.51 L917.82,185.08 L918.24,183.64 L918.66,182.20 L919.07,180.76 L919.48,179.31 L919.91,177.87 L920.34,176.44 L920.78,175.00 L921.22,173.57 L921.66,172.13 L922.11,170.70 L922.54,169.26 L922.98,167.83 L923.39,166.38 L923.80,164.94 L924.20,163.49 L924.59,162.04 L924.99,160.60 L925.38,159.15 L925.77,157.70 L926.16,156.25 L926.56,154.80 L926.95,153.35 L927.35,151.91 L927.75,150.46 L928.15,149.01 L928.55,147.57 L928.95,146.12 L929.36,144.67 L929.77,143.23 L930.18,141.79 L930.60,140.35 L931.02,138.91 L931.45,137.47 L931.88,136.03 L932.34,134.60 L932.82,133.18 L933.32,131.77 L933.85,130.36 L934.37,128.96 L934.91,127.55 L935.45,126.15 L935.99,124.75 L936.54,123.36 L937.09,121.96 L937.65,120.57 L938.21,119.18 L938.79,117.79 L939.39,116.42 L940.02,115.06 L940.67,113.71 L941.34,112.36 L942.02,111.02 L942.70,109.68 L943.39,108.35 L944.09,107.03 L944.82,105.72 L945.57,104.42 L946.34,103.13 L947.11,101.84 L947.88,100.55 L948.66,99.27 L949.45,97.99 L950.26,96.73 L951.09,95.48 L951.93,94.24 L952.78,93.00 L953.64,91.77 L954.50,90.54 L955.37,89.32 L956.27,88.12 L957.20,86.95 L958.18,85.82 L959.21,84.73 L960.25,83.66 L961.32,82.60 L962.40,81.57 L963.51,80.56 L964.66,79.61 L965.86,78.71 L967.08,77.85 L968.32,77.01 L969.57,76.17 L970.82,75.35 L972.09,74.54 L973.37,73.76 L974.66,73.00 L975.97,72.26 L977.28,71.54 L978.60,70.82 L979.93,70.13 L981.28,69.49 L982.65,68.89 L984.05,68.36 L985.46,67.86 L986.88,67.37 L988.30,66.90 L989.73,66.42 L991.15,65.95 L992.58,65.47 L994.00,65.00" stroke="#0000ff" stroke-width="3.5" fill="none" stroke-linejoin="round" stroke-linecap="round" clip-path="url(#c2)"/>
<text transform="translate(569.80,196.30) rotate(-90)" text-anchor="middle" class="b" style="font-size:31.2px">M (emu/g)</text>
<text x="811.67" y="438.40" text-anchor="middle" class="b">Magnetic Field (kOe)</text>
<clipPath id="c3"><rect x="118.60" y="502.20" width="364.20" height="318.00"/></clipPath>
<path d="M155.02,820.20V814.20M227.86,820.20V814.20M300.70,820.20V814.20M373.54,820.20V814.20M446.38,820.20V814.20M118.60,524.91H124.60M118.60,593.06H124.60M118.60,661.20H124.60M118.60,729.34H124.60M118.60,797.49H124.60M118.60,558.99H122.10M118.60,627.13H122.10M118.60,695.27H122.10M118.60,763.41H122.10" stroke="#1a1a1a" stroke-width="1" fill="none"/>
<rect x="118.60" y="502.20" width="364.20" height="318.00" fill="none" stroke="#303030" stroke-width="1.1"/>
<text x="132.26" y="850.30" class="r" fill="#000" xml:space="preserve">-20</text>
<text x="205.10" y="850.30" class="r" fill="#000">-</text><path d="M763,0L583,0L583,1147C540,1106 483,1064 413,1023C343,982 280,951 224,930L224,1104C325,1151 413,1208 489,1274C565,1340 619,1404 650,1466L763,1466Z" fill="#000" transform="translate(215.59,850.30) scale(0.015381,-0.015381)"/><text x="233.10" y="850.30" class="r" fill="#000" xml:space="preserve">0</text>
<text x="291.94" y="850.30" class="r" fill="#000" xml:space="preserve">0</text>
<path d="M763,0L583,0L583,1147C540,1106 483,1064 413,1023C343,982 280,951 224,930L224,1104C325,1151 413,1208 489,1274C565,1340 619,1404 650,1466L763,1466Z" fill="#000" transform="translate(356.02,850.30) scale(0.015381,-0.015381)"/><text x="373.54" y="850.30" class="r" fill="#000" xml:space="preserve">0</text>
<text x="428.86" y="850.30" class="r" fill="#000" xml:space="preserve">20</text>
<text x="77.06" y="533.31" class="r" fill="#000" xml:space="preserve">60</text>
<text x="77.06" y="601.46" class="r" fill="#000" xml:space="preserve">30</text>
<text x="94.58" y="669.60" class="r" fill="#000" xml:space="preserve">0</text>
<text x="66.57" y="737.74" class="r" fill="#000" xml:space="preserve">-30</text>
<text x="66.57" y="805.89" class="r" fill="#000" xml:space="preserve">-60</text>
<path d="M483.00,527.10 L481.50,527.16 L480.00,527.22 L478.50,527.28 L477.00,527.34 L475.50,527.39 L474.00,527.45 L472.51,527.51 L471.01,527.57 L469.51,527.63 L468.01,527.69 L466.51,527.75 L465.01,527.81 L463.51,527.87 L462.01,527.92 L460.51,527.98 L459.01,528.04 L457.51,528.10 L456.01,528.16 L454.52,528.23 L453.02,528.29 L451.52,528.36 L450.02,528.42 L448.52,528.49 L447.02,528.56 L445.52,528.63 L444.02,528.70 L442.52,528.76 L441.03,528.83 L439.53,528.90 L438.03,528.97 L436.53,529.03 L435.03,529.10 L433.53,529.17 L432.03,529.24 L430.53,529.32 L429.04,529.40 L427.54,529.50 L426.04,529.62 L424.55,529.74 L423.06,529.87 L421.56,530.00 L420.07,530.13 L418.57,530.27 L417.08,530.40 L415.58,530.53 L414.09,530.66 L412.59,530.79 L411.10,530.92 L409.60,531.06 L408.11,531.19 L406.61,531.32 L405.12,531.45 L403.63,531.58 L402.13,531.71 L400.64,531.85 L399.14,531.98 L397.65,532.11 L396.15,532.24 L394.66,532.37 L393.16,532.50 L391.67,532.64 L390.17,532.77 L388.68,532.90 L387.18,533.03 L385.69,533.15 L384.19,533.27 L382.70,533.39 L381.20,533.51 L379.71,533.63 L378.21,533.75 L376.72,533.87 L375.22,533.99 L373.73,534.11 L372.23,534.23 L370.73,534.35 L369.24,534.47 L367.74,534.59 L366.25,534.70 L364.75,534.82 L363.26,534.94 L361.76,535.06 L360.26,535.18 L358.77,535.30 L357.27,535.43 L355.78,535.57 L354.29,535.72 L352.80,535.89 L351.31,536.08 L349.82,536.28 L348.34,536.49 L346.86,536.75 L345.40,537.05 L343.94,537.39 L342.49,537.76 L341.04,538.14 L339.59,538.54 L338.15,538.95 L336.73,539.40 L335.32,539.91 L333.94,540.49 L332.58,541.11 L331.23,541.77 L329.89,542.44 L328.57,543.13 L327.26,543.87 L325.99,544.65 L324.74,545.47 L323.50,546.32 L322.29,547.20 L321.10,548.11 L319.96,549.07 L318.87,550.08 L317.83,551.15 L316.82,552.26 L315.83,553.38 L314.88,554.54 L313.97,555.72 L313.12,556.95 L312.31,558.21 L311.53,559.49 L310.77,560.78 L310.03,562.08 L309.31,563.40 L308.61,564.73 L307.93,566.06 L307.27,567.41 L306.64,568.77 L306.05,570.14 L305.51,571.54 L305.00,572.95 L304.52,574.37 L304.05,575.79 L303.61,577.23 L303.21,578.67 L302.84,580.12 L302.51,581.58 L302.20,583.05 L301.90,584.52 L301.60,585.99 L301.33,587.46 L301.08,588.94 L300.86,590.42 L300.68,591.91 L300.52,593.40 L300.37,594.90 L300.23,596.39 L300.08,597.88 L299.94,599.38 L299.79,600.87 L299.65,602.36 L299.51,603.86 L299.37,605.35 L299.24,606.84 L299.11,608.34 L298.97,609.83 L298.84,611.33 L298.71,612.82 L298.58,614.32 L298.44,615.81 L298.31,617.31 L298.19,618.80 L298.07,620.30 L297.96,621.79 L297.86,623.29 L297.77,624.79 L297.68,626.28 L297.59,627.78 L297.50,629.28 L297.41,630.78 L297.32,632.28 L297.24,633.77 L297.15,635.27 L297.06,636.77 L296.98,638.27 L296.90,639.77 L296.82,641.26 L296.74,642.76 L296.66,644.26 L296.58,645.76 L296.50,647.26 L296.42,648.75 L296.34,650.25 L296.25,651.75 L296.17,653.25 L296.09,654.75 L296.01,656.25 L295.93,657.74 L295.84,659.24 L295.76,660.74 L295.68,662.24 L295.59,663.74 L295.51,665.23 L295.43,666.73 L295.34,668.23 L295.26,669.73 L295.17,671.23 L295.08,672.72 L294.99,674.22 L294.90,675.72 L294.82,677.22 L294.73,678.71 L294.64,680.21 L294.55,681.71 L294.46,683.21 L294.37,684.70 L294.27,686.20 L294.18,687.70 L294.08,689.20 L293.98,690.69 L293.86,692.19 L293.73,693.68 L293.59,695.18 L293.45,696.67 L293.31,698.17 L293.17,699.66 L293.03,701.15 L292.89,702.65 L292.75,704.14 L292.62,705.63 L292.48,707.13 L292.34,708.62 L292.20,710.12 L292.06,711.61 L291.92,713.10 L291.78,714.60 L291.64,716.09 L291.50,717.59 L291.36,719.08 L291.21,720.57 L291.05,722.06 L290.90,723.56 L290.74,725.05 L290.57,726.54 L290.41,728.03 L290.24,729.52 L290.07,731.01 L289.88,732.50 L289.69,733.99 L289.48,735.47 L289.28,736.96 L289.06,738.45 L288.85,739.93 L288.61,741.41 L288.37,742.89 L288.10,744.37 L287.83,745.84 L287.55,747.32 L287.27,748.79 L286.97,750.26 L286.67,751.73 L286.34,753.19 L286.00,754.66 L285.65,756.11 L285.29,757.57 L284.90,759.01 L284.47,760.45 L284.01,761.87 L283.51,763.29 L282.99,764.69 L282.44,766.09 L281.86,767.47 L281.24,768.83 L280.58,770.18 L279.89,771.51 L279.17,772.82 L278.41,774.11 L277.59,775.35 L276.70,776.51 L275.70,777.56 L274.57,778.46 L273.33,779.25 L272.02,779.95 L270.67,780.60 L269.31,781.21 L267.92,781.79 L266.53,782.35 L265.13,782.88 L263.72,783.38 L262.30,783.84 L260.86,784.25 L259.41,784.62 L257.95,784.98 L256.49,785.32 L255.03,785.66 L253.56,785.99 L252.10,786.33 L250.64,786.65 L249.17,786.96 L247.70,787.24 L246.22,787.50 L244.74,787.74 L243.26,787.98 L241.78,788.22 L240.30,788.45 L238.81,788.69 L237.33,788.91 L235.84,789.11 L234.35,789.28 L232.86,789.42 L231.37,789.53 L229.87,789.64 L228.37,789.74 L226.88,789.83 L225.38,789.93 L223.88,790.03 L222.39,790.13 L220.89,790.23 L219.39,790.33 L217.89,790.42 L216.40,790.52 L214.90,790.62 L213.40,790.72 L211.91,790.82 L210.41,790.92 L208.91,791.01 L207.41,791.11 L205.92,791.21 L204.42,791.31 L202.92,791.41 L201.43,791.51 L199.93,791.61 L198.43,791.71 L196.93,791.82 L195.44,791.92 L193.94,792.02 L192.44,792.13 L190.95,792.23 L189.45,792.34 L187.95,792.44 L186.46,792.55 L184.96,792.65 L183.46,792.75 L181.97,792.85 L180.47,792.94 L178.97,793.02 L177.47,793.09 L175.97,793.15 L174.47,793.21 L172.98,793.26 L171.48,793.32 L169.98,793.38 L168.48,793.43 L166.98,793.49 L165.48,793.54 L163.98,793.60 L162.48,793.66 L160.98,793.71 L159.48,793.77 L157.98,793.83 L156.48,793.88 L154.98,793.94 L153.48,793.99 L151.99,794.05 L150.49,794.11 L148.99,794.16 L147.49,794.22 L145.99,794.28 L144.49,794.33 L142.99,794.39 L141.49,794.44 L139.99,794.50 L138.49,794.55 L136.99,794.61 L135.49,794.66 L133.99,794.72 L132.49,794.77 L130.99,794.83 L129.50,794.88 L128.00,794.94 L126.50,794.99 L125.00,795.05 L123.50,795.10 L122.00,795.15 L120.50,795.21 L119.00,795.26 L118.00,795.30" stroke="#ff0000" stroke-width="3.5" fill="none" stroke-linejoin="round" stroke-linecap="round" clip-path="url(#c3)"/>
<path d="M118.00,795.30 L119.50,795.25 L121.00,795.19 L122.50,795.14 L124.00,795.08 L125.50,795.03 L127.00,794.97 L128.50,794.92 L130.00,794.86 L131.50,794.81 L133.00,794.75 L134.50,794.70 L135.99,794.65 L137.49,794.59 L138.99,794.54 L140.49,794.48 L141.99,794.42 L143.49,794.37 L144.99,794.31 L146.49,794.26 L147.99,794.20 L149.49,794.14 L150.99,794.09 L152.49,794.03 L153.99,793.98 L155.49,793.92 L156.99,793.86 L158.49,793.81 L159.99,793.75 L161.49,793.69 L162.99,793.64 L164.49,793.58 L165.98,793.53 L167.48,793.47 L168.98,793.41 L170.48,793.36 L171.98,793.30 L173.48,793.24 L174.98,793.19 L176.48,793.13 L177.98,793.07 L179.48,793.00 L180.98,792.91 L182.47,792.82 L183.97,792.72 L185.47,792.62 L186.97,792.51 L188.46,792.41 L189.96,792.30 L191.46,792.20 L192.95,792.09 L194.45,791.99 L195.95,791.88 L197.44,791.78 L198.94,791.68 L200.44,791.57 L201.93,791.47 L203.43,791.37 L204.93,791.28 L206.43,791.18 L207.92,791.08 L209.42,790.98 L210.92,790.88 L212.42,790.78 L213.91,790.69 L215.41,790.59 L216.91,790.49 L218.41,790.39 L219.90,790.29 L221.40,790.19 L222.90,790.10 L224.39,790.00 L225.89,789.90 L227.39,789.80 L228.89,789.70 L230.38,789.60 L231.88,789.49 L233.37,789.37 L234.87,789.22 L236.35,789.04 L237.84,788.83 L239.32,788.61 L240.80,788.37 L242.29,788.14 L243.77,787.90 L245.25,787.66 L246.73,787.41 L248.20,787.14 L249.68,786.85 L251.14,786.54 L252.61,786.21 L254.07,785.88 L255.53,785.54 L256.99,785.20 L258.45,784.86 L259.91,784.50 L261.36,784.12 L262.79,783.69 L264.21,783.21 L265.62,782.70 L267.01,782.16 L268.40,781.59 L269.78,781.00 L271.15,780.38 L272.50,779.73 L273.83,779.05 L275.16,778.35 L276.46,777.60 L277.73,776.82 L278.96,775.98 L280.14,775.07 L281.26,774.09 L282.32,773.04 L283.35,771.96 L284.35,770.84 L285.31,769.69 L286.22,768.51 L287.08,767.29 L287.91,766.04 L288.71,764.77 L289.48,763.49 L290.21,762.18 L290.89,760.85 L291.51,759.49 L292.11,758.11 L292.68,756.73 L293.23,755.33 L293.77,753.93 L294.26,752.52 L294.71,751.09 L295.13,749.65 L295.52,748.20 L295.91,746.75 L296.29,745.30 L296.66,743.85 L297.01,742.39 L297.35,740.93 L297.66,739.46 L297.96,737.99 L298.25,736.52 L298.54,735.05 L298.82,733.57 L299.09,732.10 L299.33,730.62 L299.55,729.13 L299.76,727.65 L299.97,726.16 L300.17,724.68 L300.37,723.19 L300.56,721.70 L300.74,720.21 L300.91,718.72 L301.08,717.23 L301.24,715.74 L301.40,714.25 L301.56,712.75 L301.72,711.26 L301.88,709.77 L302.04,708.28 L302.21,706.79 L302.37,705.30 L302.54,703.80 L302.71,702.31 L302.88,700.82 L303.05,699.33 L303.22,697.84 L303.39,696.35 L303.56,694.86 L303.72,693.37 L303.87,691.87 L304.02,690.38 L304.16,688.89 L304.30,687.39 L304.44,685.90 L304.58,684.41 L304.72,682.91 L304.86,681.42 L305.00,679.92 L305.13,678.43 L305.26,676.93 L305.39,675.44 L305.51,673.94 L305.63,672.45 L305.76,670.95 L305.88,669.46 L306.00,667.96 L306.12,666.46 L306.24,664.97 L306.36,663.47 L306.48,661.98 L306.59,660.48 L306.70,658.98 L306.81,657.49 L306.91,655.99 L307.02,654.49 L307.13,653.00 L307.24,651.50 L307.34,650.00 L307.45,648.51 L307.55,647.01 L307.66,645.51 L307.76,644.02 L307.87,642.52 L307.97,641.02 L308.07,639.53 L308.18,638.03 L308.28,636.53 L308.38,635.03 L308.48,633.54 L308.58,632.04 L308.67,630.54 L308.77,629.05 L308.87,627.55 L308.96,626.05 L309.06,624.55 L309.16,623.06 L309.27,621.56 L309.40,620.06 L309.53,618.57 L309.68,617.08 L309.83,615.58 L309.97,614.09 L310.13,612.60 L310.28,611.10 L310.43,609.61 L310.58,608.12 L310.73,606.63 L310.88,605.13 L311.03,603.64 L311.18,602.15 L311.34,600.65 L311.49,599.16 L311.64,597.67 L311.80,596.18 L311.95,594.68 L312.11,593.19 L312.27,591.70 L312.43,590.21 L312.61,588.72 L312.79,587.23 L312.98,585.74 L313.17,584.25 L313.36,582.76 L313.55,581.28 L313.75,579.79 L313.94,578.30 L314.13,576.81 L314.32,575.32 L314.51,573.83 L314.71,572.35 L314.91,570.86 L315.13,569.38 L315.39,567.90 L315.68,566.43 L316.02,564.97 L316.38,563.52 L316.78,562.08 L317.23,560.66 L317.76,559.27 L318.38,557.92 L319.10,556.62 L319.88,555.34 L320.71,554.10 L321.58,552.88 L322.49,551.69 L323.44,550.54 L324.43,549.42 L325.46,548.33 L326.53,547.28 L327.63,546.26 L328.74,545.26 L329.88,544.28 L331.02,543.31 L332.19,542.37 L333.37,541.47 L334.60,540.64 L335.88,539.92 L337.23,539.32 L338.63,538.84 L340.06,538.41 L341.50,538.02 L342.95,537.64 L344.41,537.27 L345.87,536.94 L347.34,536.66 L348.82,536.42 L350.30,536.21 L351.79,536.02 L353.28,535.84 L354.77,535.67 L356.26,535.52 L357.76,535.39 L359.25,535.26 L360.75,535.14 L362.24,535.02 L363.74,534.90 L365.24,534.79 L366.73,534.67 L368.23,534.55 L369.72,534.43 L371.22,534.31 L372.71,534.19 L374.21,534.07 L375.71,533.95 L377.20,533.83 L378.70,533.71 L380.19,533.59 L381.69,533.47 L383.18,533.36 L384.68,533.23 L386.18,533.11 L387.67,532.98 L389.17,532.85 L390.66,532.72 L392.16,532.59 L393.65,532.46 L395.15,532.33 L396.64,532.20 L398.13,532.07 L399.63,531.93 L401.12,531.80 L402.62,531.67 L404.11,531.54 L405.61,531.41 L407.10,531.28 L408.60,531.14 L410.09,531.01 L411.59,530.88 L413.08,530.75 L414.58,530.62 L416.07,530.49 L417.57,530.35 L419.06,530.22 L420.56,530.09 L422.05,529.96 L423.55,529.83 L425.04,529.70 L426.54,529.58 L428.03,529.47 L429.53,529.37 L431.03,529.29 L432.53,529.22 L434.03,529.15 L435.52,529.08 L437.02,529.01 L438.52,528.94 L440.02,528.88 L441.52,528.81 L443.02,528.74 L444.52,528.67 L446.02,528.61 L447.52,528.54 L449.02,528.47 L450.51,528.40 L452.01,528.34 L453.51,528.27 L455.01,528.21 L456.51,528.14 L458.01,528.08 L459.51,528.02 L461.01,527.96 L462.51,527.91 L464.01,527.85 L465.51,527.79 L467.01,527.73 L468.51,527.67 L470.01,527.61 L471.50,527.55 L473.00,527.49 L474.50,527.43 L476.00,527.37 L477.50,527.32 L479.00,527.26 L480.50,527.20 L482.00,527.14 L483.00,527.10" stroke="#ff0000" stroke-width="3.5" fill="none" stroke-linejoin="round" stroke-linecap="round" clip-path="url(#c3)"/>
<path d="M483.00,521.60 L481.51,521.77 L480.02,521.93 L478.53,522.10 L477.04,522.26 L475.54,522.43 L474.05,522.59 L472.56,522.76 L471.07,522.92 L469.58,523.09 L468.09,523.25 L466.60,523.42 L465.11,523.58 L463.61,523.75 L462.12,523.91 L460.63,524.08 L459.14,524.24 L457.65,524.40 L456.16,524.56 L454.66,524.71 L453.17,524.84 L451.68,524.98 L450.18,525.10 L448.69,525.23 L447.19,525.35 L445.70,525.48 L444.20,525.60 L442.71,525.73 L441.21,525.85 L439.72,525.98 L438.22,526.10 L436.73,526.23 L435.23,526.35 L433.74,526.48 L432.24,526.60 L430.74,526.73 L429.25,526.85 L427.75,526.98 L426.26,527.10 L424.76,527.23 L423.27,527.35 L421.77,527.48 L420.28,527.60 L418.78,527.73 L417.29,527.85 L415.79,527.98 L414.30,528.11 L412.80,528.24 L411.31,528.36 L409.82,528.49 L408.32,528.62 L406.83,528.75 L405.33,528.88 L403.84,529.01 L402.34,529.13 L400.85,529.26 L399.35,529.39 L397.86,529.52 L396.36,529.65 L394.87,529.77 L393.37,529.90 L391.88,530.03 L390.38,530.16 L388.89,530.28 L387.39,530.41 L385.90,530.52 L384.40,530.64 L382.90,530.74 L381.41,530.85 L379.91,530.95 L378.41,531.06 L376.92,531.16 L375.42,531.27 L373.92,531.37 L372.43,531.48 L370.93,531.58 L369.43,531.69 L367.94,531.79 L366.44,531.90 L364.94,532.00 L363.45,532.11 L361.95,532.21 L360.45,532.32 L358.96,532.42 L357.46,532.53 L355.97,532.65 L354.47,532.77 L352.98,532.91 L351.48,533.05 L349.99,533.19 L348.50,533.34 L347.00,533.48 L345.51,533.63 L344.02,533.77 L342.52,533.92 L341.03,534.07 L339.54,534.21 L338.04,534.36 L336.55,534.50 L335.06,534.65 L333.56,534.80 L332.07,534.94 L330.58,535.10 L329.09,535.26 L327.60,535.45 L326.11,535.64 L324.63,535.85 L323.14,536.06 L321.66,536.28 L320.17,536.49 L318.69,536.71 L317.20,536.92 L315.72,537.14 L314.24,537.37 L312.75,537.60 L311.27,537.85 L309.79,538.09 L308.31,538.34 L306.83,538.59 L305.36,538.84 L303.88,539.11 L302.41,539.41 L300.95,539.73 L299.49,540.09 L298.04,540.46 L296.59,540.86 L295.16,541.28 L293.73,541.73 L292.31,542.22 L290.91,542.74 L289.50,543.27 L288.10,543.81 L286.71,544.36 L285.31,544.92 L283.93,545.49 L282.54,546.07 L281.17,546.67 L279.80,547.28 L278.45,547.92 L277.12,548.60 L275.83,549.35 L274.58,550.16 L273.36,551.02 L272.16,551.92 L270.99,552.86 L269.85,553.82 L268.74,554.83 L267.66,555.87 L266.60,556.93 L265.57,558.02 L264.57,559.13 L263.60,560.27 L262.66,561.44 L261.75,562.63 L260.88,563.85 L260.05,565.09 L259.27,566.37 L258.51,567.66 L257.76,568.96 L257.03,570.27 L256.31,571.59 L255.62,572.91 L254.93,574.25 L254.26,575.59 L253.60,576.94 L252.95,578.29 L252.32,579.65 L251.70,581.01 L251.09,582.39 L250.50,583.76 L249.92,585.15 L249.36,586.54 L248.83,587.94 L248.31,589.35 L247.81,590.76 L247.30,592.18 L246.80,593.59 L246.30,595.00 L245.80,596.42 L245.31,597.83 L244.81,599.25 L244.31,600.66 L243.81,602.08 L243.31,603.49 L242.81,604.91 L242.31,606.32 L241.83,607.74 L241.36,609.17 L240.90,610.60 L240.46,612.03 L240.02,613.46 L239.59,614.90 L239.17,616.34 L238.78,617.79 L238.40,619.24 L238.03,620.69 L237.66,622.15 L237.28,623.60 L236.90,625.05 L236.50,626.50 L236.09,627.94 L235.69,629.38 L235.28,630.83 L234.89,632.28 L234.51,633.73 L234.13,635.18 L233.77,636.63 L233.40,638.09 L233.02,639.54 L232.64,640.99 L232.26,642.44 L231.86,643.89 L231.46,645.34 L231.07,646.78 L230.67,648.23 L230.29,649.68 L229.91,651.13 L229.54,652.59 L229.18,654.04 L228.81,655.50 L228.45,656.95 L228.09,658.41 L227.74,659.87 L227.38,661.33 L227.03,662.78 L226.68,664.24 L226.34,665.70 L226.00,667.16 L225.67,668.63 L225.35,670.09 L225.03,671.56 L224.72,673.03 L224.42,674.50 L224.11,675.97 L223.81,677.44 L223.50,678.90 L223.20,680.37 L222.89,681.84 L222.59,683.31 L222.28,684.78 L221.98,686.25 L221.67,687.72 L221.37,689.19 L221.06,690.66 L220.75,692.12 L220.43,693.59 L220.10,695.05 L219.75,696.51 L219.39,697.97 L219.03,699.42 L218.66,700.88 L218.29,702.33 L217.92,703.79 L217.55,705.24 L217.18,706.69 L216.82,708.15 L216.46,709.61 L216.10,711.06 L215.74,712.52 L215.38,713.98 L215.02,715.43 L214.66,716.89 L214.30,718.34 L213.92,719.80 L213.54,721.25 L213.13,722.69 L212.72,724.13 L212.30,725.57 L211.88,727.01 L211.46,728.45 L211.04,729.89 L210.61,731.33 L210.16,732.76 L209.69,734.19 L209.20,735.60 L208.68,737.01 L208.16,738.42 L207.63,739.82 L207.10,741.22 L206.57,742.63 L206.03,744.03 L205.49,745.42 L204.92,746.81 L204.33,748.19 L203.72,749.56 L203.09,750.92 L202.47,752.29 L201.84,753.65 L201.21,755.01 L200.57,756.37 L199.92,757.72 L199.24,759.05 L198.52,760.36 L197.75,761.65 L196.95,762.92 L196.14,764.18 L195.32,765.44 L194.50,766.69 L193.68,767.94 L192.84,769.19 L191.97,770.40 L191.06,771.59 L190.10,772.74 L189.11,773.86 L188.10,774.97 L187.08,776.07 L186.04,777.15 L184.99,778.22 L183.92,779.27 L182.83,780.30 L181.72,781.31 L180.59,782.27 L179.41,783.19 L178.18,784.04 L176.93,784.86 L175.65,785.65 L174.37,786.43 L173.09,787.20 L171.80,787.97 L170.50,788.72 L169.19,789.44 L167.86,790.13 L166.50,790.76 L165.12,791.33 L163.72,791.85 L162.31,792.35 L160.88,792.82 L159.45,793.28 L158.02,793.71 L156.58,794.13 L155.13,794.52 L153.67,794.88 L152.21,795.21 L150.75,795.53 L149.28,795.82 L147.80,796.09 L146.32,796.34 L144.84,796.57 L143.36,796.79 L141.87,797.00 L140.39,797.20 L138.90,797.38 L137.41,797.55 L135.91,797.71 L134.42,797.86 L132.93,798.01 L131.44,798.16 L129.94,798.31 L128.45,798.45 L126.96,798.60 L125.46,798.75 L123.97,798.90 L122.48,799.05 L120.99,799.20 L119.49,799.35 L118.00,799.50" stroke="#0000ff" stroke-width="3.5" fill="none" stroke-linejoin="round" stroke-linecap="round" clip-path="url(#c3)"/>
<path d="M118.00,801.00 L119.50,800.87 L120.99,800.74 L122.49,800.61 L123.98,800.48 L125.48,800.35 L126.97,800.23 L128.47,800.10 L129.96,799.97 L131.46,799.84 L132.96,799.71 L134.45,799.58 L135.95,799.45 L137.44,799.32 L138.94,799.20 L140.44,799.08 L141.93,798.96 L143.43,798.85 L144.93,798.74 L146.42,798.63 L147.92,798.52 L149.42,798.42 L150.92,798.31 L152.41,798.20 L153.91,798.09 L155.41,797.98 L156.90,797.87 L158.40,797.76 L159.90,797.65 L161.40,797.55 L162.89,797.44 L164.39,797.33 L165.89,797.22 L167.38,797.11 L168.88,797.00 L170.38,796.89 L171.88,796.78 L173.37,796.68 L174.87,796.57 L176.37,796.46 L177.87,796.35 L179.36,796.24 L180.86,796.13 L182.36,796.02 L183.85,795.91 L185.35,795.81 L186.85,795.70 L188.35,795.59 L189.84,795.48 L191.34,795.37 L192.84,795.26 L194.33,795.15 L195.83,795.04 L197.33,794.94 L198.83,794.83 L200.32,794.72 L201.82,794.61 L203.32,794.50 L204.82,794.39 L206.31,794.28 L207.81,794.17 L209.31,794.07 L210.80,793.96 L212.30,793.85 L213.80,793.74 L215.30,793.63 L216.79,793.52 L218.29,793.41 L219.79,793.30 L221.28,793.20 L222.78,793.09 L224.28,792.98 L225.78,792.87 L227.27,792.76 L228.77,792.65 L230.27,792.54 L231.76,792.43 L233.26,792.31 L234.76,792.17 L236.25,792.02 L237.74,791.86 L239.23,791.68 L240.72,791.50 L242.21,791.32 L243.70,791.14 L245.19,790.96 L246.68,790.78 L248.17,790.60 L249.66,790.41 L251.15,790.23 L252.64,790.05 L254.13,789.87 L255.62,789.69 L257.11,789.51 L258.60,789.33 L260.09,789.15 L261.58,788.96 L263.07,788.78 L264.56,788.60 L266.05,788.42 L267.54,788.24 L269.03,788.05 L270.52,787.87 L272.01,787.68 L273.50,787.49 L274.99,787.30 L276.48,787.11 L277.97,786.93 L279.46,786.74 L280.95,786.55 L282.44,786.36 L283.93,786.17 L285.42,785.98 L286.91,785.79 L288.39,785.59 L289.88,785.37 L291.36,785.14 L292.84,784.89 L294.32,784.64 L295.80,784.38 L297.28,784.11 L298.75,783.83 L300.22,783.52 L301.67,783.17 L303.12,782.79 L304.57,782.39 L306.01,781.97 L307.45,781.54 L308.89,781.11 L310.32,780.67 L311.74,780.19 L313.16,779.69 L314.56,779.17 L315.96,778.63 L317.36,778.08 L318.75,777.51 L320.13,776.93 L321.49,776.30 L322.83,775.63 L324.15,774.92 L325.45,774.19 L326.74,773.42 L327.99,772.60 L329.18,771.72 L330.32,770.76 L331.42,769.75 L332.49,768.70 L333.55,767.63 L334.59,766.55 L335.60,765.45 L336.60,764.33 L337.57,763.19 L338.53,762.03 L339.46,760.86 L340.36,759.66 L341.22,758.44 L342.03,757.18 L342.80,755.89 L343.56,754.60 L344.30,753.29 L345.02,751.98 L345.73,750.65 L346.41,749.32 L347.09,747.98 L347.75,746.63 L348.40,745.28 L349.04,743.92 L349.64,742.55 L350.21,741.16 L350.76,739.76 L351.29,738.36 L351.81,736.95 L352.34,735.55 L352.87,734.14 L353.40,732.74 L353.93,731.33 L354.46,729.93 L354.98,728.52 L355.50,727.11 L356.00,725.70 L356.48,724.28 L356.94,722.85 L357.40,721.42 L357.84,719.99 L358.29,718.55 L358.73,717.12 L359.18,715.69 L359.62,714.25 L360.07,712.82 L360.51,711.38 L360.96,709.95 L361.40,708.52 L361.85,707.08 L362.30,705.65 L362.75,704.22 L363.19,702.79 L363.63,701.35 L364.05,699.91 L364.46,698.46 L364.84,697.01 L365.22,695.56 L365.59,694.11 L365.95,692.65 L366.32,691.19 L366.68,689.74 L367.03,688.28 L367.38,686.82 L367.74,685.36 L368.09,683.90 L368.45,682.44 L368.82,680.99 L369.18,679.53 L369.55,678.08 L369.92,676.62 L370.29,675.17 L370.66,673.71 L371.01,672.25 L371.37,670.79 L371.72,669.33 L372.07,667.87 L372.42,666.41 L372.76,664.95 L373.10,663.49 L373.44,662.03 L373.76,660.56 L374.08,659.10 L374.40,657.63 L374.71,656.16 L375.03,654.69 L375.34,653.22 L375.65,651.76 L375.97,650.29 L376.28,648.82 L376.59,647.35 L376.89,645.88 L377.20,644.41 L377.50,642.94 L377.81,641.47 L378.11,640.00 L378.42,638.53 L378.73,637.06 L379.06,635.60 L379.40,634.14 L379.75,632.68 L380.12,631.22 L380.49,629.77 L380.86,628.31 L381.24,626.86 L381.61,625.41 L381.98,623.95 L382.36,622.50 L382.75,621.05 L383.13,619.60 L383.52,618.15 L383.90,616.70 L384.29,615.25 L384.68,613.80 L385.08,612.35 L385.48,610.90 L385.90,609.46 L386.32,608.02 L386.75,606.58 L387.18,605.14 L387.61,603.71 L388.05,602.27 L388.49,600.84 L388.95,599.41 L389.42,597.98 L389.90,596.56 L390.37,595.14 L390.85,593.71 L391.33,592.29 L391.80,590.87 L392.28,589.44 L392.75,588.02 L393.22,586.59 L393.70,585.17 L394.18,583.74 L394.67,582.33 L395.19,580.92 L395.73,579.52 L396.28,578.12 L396.83,576.73 L397.39,575.33 L397.96,573.94 L398.54,572.56 L399.14,571.19 L399.78,569.83 L400.43,568.48 L401.10,567.14 L401.78,565.80 L402.46,564.46 L403.15,563.13 L403.86,561.81 L404.61,560.51 L405.40,559.23 L406.21,557.97 L407.04,556.72 L407.87,555.48 L408.72,554.24 L409.58,553.01 L410.48,551.81 L411.42,550.65 L412.40,549.52 L413.41,548.41 L414.43,547.31 L415.46,546.22 L416.51,545.14 L417.58,544.09 L418.68,543.08 L419.81,542.09 L420.96,541.13 L422.12,540.19 L423.29,539.25 L424.47,538.32 L425.68,537.43 L426.91,536.58 L428.17,535.78 L429.46,535.01 L430.76,534.26 L432.07,533.54 L433.40,532.85 L434.75,532.22 L436.13,531.66 L437.54,531.15 L438.97,530.69 L440.40,530.24 L441.83,529.80 L443.27,529.35 L444.70,528.90 L446.13,528.46 L447.56,528.01 L449.00,527.56 L450.44,527.14 L451.88,526.75 L453.34,526.40 L454.81,526.09 L456.28,525.80 L457.76,525.53 L459.23,525.27 L460.72,525.03 L462.20,524.80 L463.68,524.57 L465.17,524.36 L466.65,524.15 L468.14,523.93 L469.63,523.72 L471.11,523.51 L472.60,523.29 L474.08,523.08 L475.57,522.87 L477.06,522.65 L478.54,522.44 L480.03,522.23 L481.51,522.01 L483.00,521.80" stroke="#0000ff" stroke-width="3.5" fill="none" stroke-linejoin="round" stroke-linecap="round" clip-path="url(#c3)"/>
<text transform="translate(49.50,681.60) rotate(-90)" text-anchor="middle" class="b" style="font-size:31.2px">M (emu/g)</text>
<text x="300.70" y="901.40" text-anchor="middle" class="b">Magnetic Field (kOe)</text>
<clipPath id="c4"><rect x="629.75" y="502.20" width="363.85" height="317.70"/></clipPath>
<path d="M666.13,819.90V813.90M738.90,819.90V813.90M811.67,819.90V813.90M884.44,819.90V813.90M957.22,819.90V813.90M629.75,502.20H635.75M629.75,581.62H635.75M629.75,661.05H635.75M629.75,740.48H635.75M629.75,819.90H635.75M629.75,541.91H633.25M629.75,621.34H633.25M629.75,700.76H633.25M629.75,780.19H633.25" stroke="#1a1a1a" stroke-width="1" fill="none"/>
<rect x="629.75" y="502.20" width="363.85" height="317.70" fill="none" stroke="#303030" stroke-width="1.1"/>
<text x="643.37" y="850.30" class="r" fill="#000" xml:space="preserve">-20</text>
<text x="716.14" y="850.30" class="r" fill="#000">-</text><path d="M763,0L583,0L583,1147C540,1106 483,1064 413,1023C343,982 280,951 224,930L224,1104C325,1151 413,1208 489,1274C565,1340 619,1404 650,1466L763,1466Z" fill="#000" transform="translate(726.63,850.30) scale(0.015381,-0.015381)"/><text x="744.15" y="850.30" class="r" fill="#000" xml:space="preserve">0</text>
<text x="802.92" y="850.30" class="r" fill="#000" xml:space="preserve">0</text>
<path d="M763,0L583,0L583,1147C540,1106 483,1064 413,1023C343,982 280,951 224,930L224,1104C325,1151 413,1208 489,1274C565,1340 619,1404 650,1466L763,1466Z" fill="#000" transform="translate(866.93,850.30) scale(0.015381,-0.015381)"/><text x="884.44" y="850.30" class="r" fill="#000" xml:space="preserve">0</text>
<text x="939.70" y="850.30" class="r" fill="#000" xml:space="preserve">20</text>
<text x="588.21" y="510.60" class="r" fill="#000" xml:space="preserve">60</text>
<text x="588.21" y="590.02" class="r" fill="#000" xml:space="preserve">30</text>
<text x="605.73" y="669.45" class="r" fill="#000" xml:space="preserve">0</text>
<text x="577.72" y="748.88" class="r" fill="#000" xml:space="preserve">-30</text>
<text x="577.72" y="828.30" class="r" fill="#000" xml:space="preserve">-60</text>
<path d="M994.00,533.30 L992.50,533.35 L991.00,533.39 L989.50,533.44 L988.00,533.48 L986.50,533.53 L985.00,533.57 L983.50,533.62 L982.00,533.67 L980.50,533.71 L979.00,533.76 L977.50,533.80 L976.00,533.85 L974.49,533.90 L972.99,533.94 L971.49,533.99 L969.99,534.03 L968.49,534.08 L966.99,534.12 L965.49,534.17 L963.99,534.22 L962.49,534.26 L960.99,534.31 L959.49,534.35 L957.99,534.40 L956.49,534.44 L954.99,534.49 L953.49,534.54 L951.99,534.58 L950.49,534.63 L948.99,534.67 L947.49,534.72 L945.99,534.76 L944.49,534.81 L942.99,534.86 L941.49,534.90 L939.99,534.95 L938.49,535.00 L936.98,535.05 L935.49,535.11 L933.99,535.18 L932.49,535.26 L930.99,535.34 L929.49,535.43 L927.99,535.52 L926.49,535.61 L924.99,535.70 L923.50,535.79 L922.00,535.88 L920.50,535.97 L919.00,536.06 L917.50,536.15 L916.00,536.24 L914.51,536.33 L913.01,536.42 L911.51,536.51 L910.01,536.61 L908.51,536.70 L907.02,536.80 L905.52,536.90 L904.02,537.01 L902.52,537.11 L901.03,537.22 L899.53,537.32 L898.03,537.42 L896.53,537.53 L895.04,537.63 L893.54,537.74 L892.04,537.84 L890.54,537.95 L889.05,538.05 L887.55,538.16 L886.05,538.26 L884.55,538.37 L883.06,538.47 L881.56,538.58 L880.06,538.69 L878.57,538.82 L877.07,538.97 L875.59,539.15 L874.10,539.36 L872.62,539.59 L871.13,539.82 L869.65,540.05 L868.17,540.29 L866.69,540.53 L865.20,540.76 L863.72,541.00 L862.24,541.24 L860.76,541.48 L859.28,541.72 L857.80,541.96 L856.31,542.21 L854.83,542.45 L853.35,542.70 L851.87,542.94 L850.39,543.19 L848.91,543.45 L847.44,543.72 L845.97,544.03 L844.52,544.38 L843.07,544.78 L841.64,545.21 L840.21,545.67 L838.78,546.13 L837.36,546.62 L835.96,547.14 L834.59,547.71 L833.28,548.39 L832.04,549.18 L830.86,550.07 L829.71,551.03 L828.59,552.02 L827.49,553.03 L826.43,554.08 L825.44,555.19 L824.53,556.36 L823.69,557.60 L822.90,558.86 L822.13,560.15 L821.36,561.44 L820.62,562.74 L819.90,564.06 L819.24,565.40 L818.62,566.76 L818.04,568.14 L817.48,569.54 L816.93,570.93 L816.40,572.34 L815.92,573.75 L815.48,575.18 L815.11,576.63 L814.77,578.09 L814.46,579.56 L814.16,581.03 L813.87,582.50 L813.60,583.98 L813.35,585.46 L813.12,586.94 L812.90,588.42 L812.69,589.91 L812.48,591.40 L812.28,592.88 L812.09,594.37 L811.92,595.86 L811.76,597.36 L811.60,598.85 L811.45,600.34 L811.30,601.84 L811.17,603.33 L811.04,604.83 L810.93,606.32 L810.82,607.82 L810.72,609.32 L810.62,610.81 L810.51,612.31 L810.41,613.81 L810.31,615.31 L810.21,616.81 L810.11,618.30 L810.00,619.80 L809.90,621.30 L809.80,622.80 L809.70,624.29 L809.59,625.79 L809.49,627.29 L809.39,628.79 L809.29,630.28 L809.19,631.78 L809.09,633.28 L808.99,634.78 L808.90,636.28 L808.81,637.77 L808.72,639.27 L808.62,640.77 L808.53,642.27 L808.44,643.77 L808.35,645.27 L808.26,646.76 L808.18,648.26 L808.09,649.76 L808.01,651.26 L807.93,652.76 L807.85,654.26 L807.77,655.76 L807.69,657.26 L807.61,658.76 L807.54,660.25 L807.47,661.75 L807.40,663.25 L807.34,664.75 L807.29,666.25 L807.23,667.75 L807.17,669.25 L807.11,670.75 L807.05,672.25 L806.99,673.75 L806.93,675.25 L806.86,676.75 L806.78,678.25 L806.70,679.75 L806.62,681.25 L806.53,682.75 L806.44,684.25 L806.36,685.74 L806.27,687.24 L806.19,688.74 L806.10,690.24 L806.01,691.74 L805.93,693.24 L805.84,694.74 L805.74,696.23 L805.65,697.73 L805.55,699.23 L805.45,700.73 L805.34,702.23 L805.24,703.72 L805.14,705.22 L805.04,706.72 L804.94,708.22 L804.84,709.71 L804.74,711.21 L804.63,712.71 L804.53,714.21 L804.43,715.70 L804.33,717.20 L804.23,718.70 L804.13,720.20 L804.03,721.70 L803.92,723.19 L803.82,724.69 L803.72,726.19 L803.62,727.69 L803.52,729.18 L803.41,730.68 L803.30,732.18 L803.17,733.67 L803.02,735.17 L802.86,736.66 L802.69,738.15 L802.52,739.64 L802.34,741.13 L802.16,742.62 L801.98,744.11 L801.81,745.60 L801.62,747.09 L801.43,748.58 L801.22,750.07 L800.98,751.55 L800.72,753.02 L800.44,754.50 L800.14,755.97 L799.85,757.44 L799.54,758.91 L799.20,760.36 L798.78,761.79 L798.28,763.18 L797.67,764.54 L796.98,765.86 L796.26,767.17 L795.49,768.45 L794.67,769.69 L793.77,770.85 L792.75,771.90 L791.62,772.86 L790.42,773.74 L789.17,774.56 L787.88,775.32 L786.57,776.04 L785.23,776.70 L783.86,777.28 L782.46,777.78 L781.03,778.21 L779.58,778.60 L778.13,778.97 L776.67,779.33 L775.21,779.69 L773.75,780.03 L772.29,780.35 L770.82,780.62 L769.34,780.83 L767.85,781.01 L766.35,781.17 L764.86,781.32 L763.37,781.46 L761.87,781.61 L760.38,781.76 L758.89,781.90 L757.39,782.05 L755.90,782.19 L754.40,782.34 L752.91,782.49 L751.42,782.63 L749.92,782.78 L748.43,782.92 L746.93,783.06 L745.44,783.19 L743.94,783.31 L742.44,783.43 L740.95,783.54 L739.45,783.66 L737.95,783.77 L736.46,783.88 L734.96,783.99 L733.46,784.10 L731.97,784.21 L730.47,784.32 L728.97,784.43 L727.48,784.55 L725.98,784.66 L724.48,784.77 L722.98,784.87 L721.49,784.98 L719.99,785.07 L718.49,785.16 L716.99,785.24 L715.49,785.31 L713.99,785.38 L712.49,785.45 L710.99,785.52 L709.49,785.59 L707.99,785.66 L706.49,785.73 L705.00,785.80 L703.50,785.87 L702.00,785.94 L700.50,786.01 L699.00,786.08 L697.50,786.15 L696.00,786.22 L694.50,786.29 L693.00,786.36 L691.50,786.43 L690.00,786.50 L688.50,786.57 L687.00,786.64 L685.50,786.71 L684.00,786.78 L682.50,786.85 L681.00,786.92 L679.50,786.99 L678.00,787.06 L676.51,787.12 L675.01,787.19 L673.51,787.25 L672.01,787.30 L670.51,787.36 L669.01,787.41 L667.51,787.46 L666.00,787.51 L664.50,787.57 L663.00,787.62 L661.50,787.67 L660.00,787.72 L658.50,787.77 L657.00,787.83 L655.50,787.88 L654.00,787.93 L652.50,787.98 L651.00,788.03 L649.50,788.09 L648.00,788.14 L646.50,788.19 L645.00,788.24 L643.50,788.30 L642.00,788.35 L640.50,788.40 L639.00,788.45 L637.50,788.50 L636.00,788.56 L634.50,788.61 L633.00,788.66 L631.50,788.71 L630.00,788.77 L629.00,788.80" stroke="#ff0000" stroke-width="3.5" fill="none" stroke-linejoin="round" stroke-linecap="round" clip-path="url(#c4)"/>
<path d="M629.00,788.80 L630.50,788.75 L632.00,788.70 L633.50,788.64 L635.00,788.59 L636.50,788.54 L638.00,788.49 L639.50,788.43 L641.00,788.38 L642.50,788.33 L644.00,788.28 L645.50,788.23 L647.00,788.17 L648.50,788.12 L649.99,788.07 L651.49,788.02 L652.99,787.97 L654.49,787.91 L655.99,787.86 L657.49,787.81 L658.99,787.76 L660.49,787.70 L661.99,787.65 L663.49,787.60 L664.99,787.55 L666.49,787.50 L667.99,787.44 L669.49,787.39 L670.99,787.34 L672.49,787.28 L673.99,787.23 L675.49,787.17 L676.99,787.10 L678.49,787.04 L679.99,786.97 L681.48,786.90 L682.98,786.83 L684.48,786.76 L685.98,786.69 L687.48,786.62 L688.98,786.55 L690.48,786.48 L691.98,786.41 L693.48,786.34 L694.97,786.27 L696.47,786.20 L697.97,786.13 L699.47,786.06 L700.97,785.99 L702.47,785.92 L703.97,785.85 L705.47,785.78 L706.97,785.71 L708.46,785.64 L709.96,785.57 L711.46,785.50 L712.96,785.43 L714.46,785.36 L715.96,785.29 L717.46,785.21 L718.96,785.13 L720.45,785.04 L721.95,784.95 L723.45,784.84 L724.94,784.73 L726.44,784.62 L727.94,784.51 L729.43,784.40 L730.93,784.29 L732.43,784.18 L733.92,784.07 L735.42,783.96 L736.92,783.84 L738.41,783.73 L739.91,783.62 L741.41,783.51 L742.90,783.40 L744.40,783.28 L745.89,783.15 L747.39,783.02 L748.88,782.88 L750.37,782.73 L751.87,782.59 L753.36,782.44 L754.85,782.30 L756.35,782.15 L757.84,782.00 L759.33,781.86 L760.83,781.71 L762.32,781.57 L763.82,781.42 L765.31,781.27 L766.80,781.12 L768.29,780.96 L769.78,780.77 L771.26,780.54 L772.73,780.26 L774.19,779.93 L775.65,779.58 L777.10,779.22 L778.56,778.86 L780.01,778.48 L781.45,778.09 L782.88,777.64 L784.27,777.12 L785.63,776.51 L786.96,775.83 L788.26,775.10 L789.54,774.32 L790.79,773.50 L792.01,772.63 L793.20,771.72 L794.36,770.77 L795.50,769.80 L796.61,768.79 L797.68,767.75 L798.69,766.67 L799.61,765.51 L800.44,764.28 L801.21,763.00 L801.94,761.70 L802.65,760.38 L803.33,759.04 L803.96,757.69 L804.52,756.31 L805.00,754.90 L805.43,753.47 L805.84,752.02 L806.23,750.57 L806.62,749.13 L807.01,747.68 L807.39,746.23 L807.75,744.77 L808.08,743.31 L808.36,741.84 L808.60,740.36 L808.82,738.88 L809.01,737.39 L809.21,735.90 L809.40,734.41 L809.59,732.93 L809.79,731.44 L809.97,729.95 L810.14,728.46 L810.28,726.96 L810.41,725.47 L810.51,723.97 L810.61,722.48 L810.71,720.98 L810.80,719.48 L810.89,717.98 L810.99,716.49 L811.08,714.99 L811.18,713.49 L811.27,711.99 L811.36,710.50 L811.46,709.00 L811.56,707.50 L811.66,706.00 L811.76,704.51 L811.86,703.01 L811.96,701.51 L812.06,700.02 L812.16,698.52 L812.26,697.02 L812.37,695.52 L812.47,694.03 L812.57,692.53 L812.67,691.03 L812.77,689.54 L812.87,688.04 L812.97,686.54 L813.07,685.04 L813.18,683.55 L813.28,682.05 L813.38,680.55 L813.48,679.06 L813.58,677.56 L813.68,676.06 L813.78,674.56 L813.89,673.07 L813.99,671.57 L814.10,670.07 L814.21,668.58 L814.32,667.08 L814.44,665.58 L814.55,664.09 L814.67,662.59 L814.79,661.10 L814.90,659.60 L815.02,658.10 L815.14,656.61 L815.26,655.11 L815.37,653.62 L815.49,652.12 L815.61,650.63 L815.73,649.13 L815.84,647.63 L815.96,646.14 L816.08,644.64 L816.20,643.15 L816.32,641.65 L816.44,640.15 L816.56,638.66 L816.68,637.16 L816.80,635.67 L816.92,634.17 L817.04,632.68 L817.16,631.18 L817.27,629.68 L817.40,628.19 L817.52,626.69 L817.64,625.20 L817.76,623.70 L817.88,622.21 L818.01,620.71 L818.13,619.21 L818.25,617.72 L818.37,616.22 L818.50,614.73 L818.62,613.23 L818.74,611.74 L818.87,610.24 L818.99,608.75 L819.11,607.25 L819.23,605.76 L819.36,604.26 L819.48,602.76 L819.60,601.27 L819.73,599.77 L819.85,598.28 L819.97,596.78 L820.09,595.29 L820.21,593.79 L820.33,592.29 L820.44,590.80 L820.55,589.30 L820.67,587.81 L820.78,586.31 L820.89,584.81 L821.01,583.32 L821.12,581.82 L821.25,580.33 L821.38,578.83 L821.52,577.34 L821.67,575.84 L821.82,574.35 L821.98,572.86 L822.17,571.37 L822.40,569.90 L822.68,568.42 L823.01,566.96 L823.37,565.51 L823.79,564.08 L824.27,562.67 L824.85,561.30 L825.51,559.98 L826.25,558.68 L827.03,557.40 L827.85,556.15 L828.71,554.94 L829.65,553.79 L830.67,552.70 L831.74,551.67 L832.86,550.67 L834.00,549.71 L835.19,548.80 L836.42,547.95 L837.68,547.16 L838.99,546.45 L840.34,545.81 L841.72,545.26 L843.14,544.79 L844.57,544.37 L846.03,544.02 L847.49,543.71 L848.97,543.44 L850.44,543.18 L851.92,542.94 L853.41,542.69 L854.89,542.45 L856.37,542.20 L857.85,541.96 L859.33,541.71 L860.81,541.47 L862.29,541.23 L863.77,540.99 L865.25,540.76 L866.73,540.52 L868.22,540.28 L869.70,540.05 L871.18,539.81 L872.66,539.58 L874.15,539.35 L875.63,539.14 L877.12,538.96 L878.61,538.81 L880.10,538.69 L881.60,538.57 L883.10,538.47 L884.59,538.36 L886.09,538.26 L887.59,538.15 L889.08,538.05 L890.58,537.94 L892.08,537.84 L893.58,537.74 L895.07,537.63 L896.57,537.53 L898.07,537.42 L899.56,537.32 L901.06,537.21 L902.56,537.11 L904.05,537.00 L905.55,536.90 L907.05,536.80 L908.54,536.70 L910.04,536.60 L911.54,536.51 L913.04,536.42 L914.54,536.33 L916.03,536.24 L917.53,536.15 L919.03,536.06 L920.53,535.97 L922.02,535.88 L923.52,535.79 L925.02,535.70 L926.52,535.61 L928.02,535.52 L929.51,535.43 L931.01,535.34 L932.51,535.26 L934.01,535.18 L935.51,535.11 L937.01,535.05 L938.51,535.00 L940.01,534.95 L941.51,534.90 L943.01,534.86 L944.51,534.81 L946.00,534.76 L947.50,534.72 L949.00,534.67 L950.50,534.63 L952.00,534.58 L953.50,534.54 L955.00,534.49 L956.50,534.44 L958.00,534.40 L959.50,534.35 L961.00,534.31 L962.50,534.26 L964.00,534.22 L965.50,534.17 L967.00,534.12 L968.50,534.08 L970.00,534.03 L971.50,533.99 L973.00,533.94 L974.50,533.89 L976.00,533.85 L977.50,533.80 L979.00,533.76 L980.50,533.71 L982.00,533.67 L983.50,533.62 L985.00,533.57 L986.50,533.53 L988.00,533.48 L989.50,533.44 L991.00,533.39 L992.50,533.35 L994.00,533.30" stroke="#ff0000" stroke-width="3.5" fill="none" stroke-linejoin="round" stroke-linecap="round" clip-path="url(#c4)"/>
<path d="M994.00,525.60 L992.50,525.69 L991.01,525.78 L989.51,525.87 L988.01,525.97 L986.51,526.06 L985.02,526.15 L983.52,526.24 L982.02,526.33 L980.52,526.42 L979.03,526.51 L977.53,526.61 L976.03,526.70 L974.53,526.79 L973.04,526.88 L971.54,526.97 L970.04,527.06 L968.54,527.15 L967.05,527.24 L965.55,527.34 L964.05,527.43 L962.55,527.52 L961.06,527.61 L959.56,527.70 L958.06,527.79 L956.56,527.88 L955.07,527.98 L953.57,528.07 L952.07,528.16 L950.57,528.25 L949.08,528.34 L947.58,528.43 L946.08,528.52 L944.58,528.62 L943.09,528.71 L941.59,528.80 L940.09,528.89 L938.59,528.98 L937.10,529.08 L935.60,529.19 L934.11,529.31 L932.61,529.45 L931.12,529.59 L929.63,529.73 L928.13,529.88 L926.64,530.03 L925.15,530.18 L923.65,530.33 L922.16,530.48 L920.67,530.63 L919.18,530.79 L917.69,530.96 L916.20,531.14 L914.71,531.32 L913.22,531.50 L911.73,531.69 L910.24,531.87 L908.75,532.06 L907.26,532.24 L905.77,532.43 L904.29,532.61 L902.80,532.79 L901.31,532.98 L899.82,533.16 L898.33,533.33 L896.84,533.49 L895.35,533.65 L893.85,533.80 L892.36,533.95 L890.87,534.10 L889.37,534.25 L887.88,534.40 L886.39,534.55 L884.90,534.70 L883.40,534.85 L881.91,535.00 L880.42,535.15 L878.93,535.31 L877.44,535.48 L875.95,535.67 L874.46,535.87 L872.98,536.08 L871.49,536.30 L870.01,536.52 L868.53,536.74 L867.04,536.96 L865.56,537.18 L864.07,537.40 L862.59,537.62 L861.10,537.84 L859.62,538.06 L858.14,538.27 L856.65,538.48 L855.16,538.67 L853.67,538.84 L852.18,539.01 L850.69,539.18 L849.20,539.34 L847.71,539.51 L846.22,539.69 L844.73,539.88 L843.25,540.09 L841.76,540.32 L840.28,540.55 L838.80,540.78 L837.32,541.02 L835.84,541.26 L834.36,541.52 L832.89,541.81 L831.42,542.12 L829.96,542.46 L828.51,542.81 L827.05,543.18 L825.60,543.54 L824.15,543.93 L822.70,544.32 L821.26,544.74 L819.82,545.17 L818.39,545.61 L816.95,546.05 L815.53,546.51 L814.11,546.99 L812.70,547.51 L811.31,548.06 L809.93,548.65 L808.58,549.28 L807.26,549.98 L806.00,550.76 L804.79,551.62 L803.64,552.56 L802.56,553.57 L801.57,554.67 L800.68,555.85 L799.85,557.09 L799.09,558.37 L798.38,559.69 L797.72,561.03 L797.10,562.40 L796.51,563.78 L795.95,565.17 L795.42,566.57 L794.93,567.98 L794.45,569.40 L793.99,570.83 L793.54,572.26 L793.11,573.70 L792.68,575.14 L792.28,576.58 L791.88,578.03 L791.48,579.48 L791.09,580.92 L790.71,582.37 L790.33,583.83 L789.97,585.28 L789.60,586.74 L789.24,588.19 L788.89,589.65 L788.54,591.11 L788.20,592.57 L787.88,594.04 L787.57,595.50 L787.27,596.97 L786.97,598.44 L786.67,599.91 L786.37,601.38 L786.08,602.86 L785.79,604.33 L785.50,605.80 L785.22,607.27 L784.93,608.74 L784.64,610.22 L784.35,611.69 L784.05,613.16 L783.76,614.63 L783.45,616.10 L783.15,617.57 L782.85,619.04 L782.55,620.51 L782.26,621.98 L781.96,623.45 L781.68,624.92 L781.39,626.40 L781.10,627.87 L780.82,629.34 L780.52,630.81 L780.23,632.28 L779.93,633.75 L779.63,635.22 L779.33,636.69 L779.03,638.16 L778.73,639.63 L778.45,641.11 L778.17,642.58 L777.90,644.06 L777.64,645.53 L777.38,647.01 L777.12,648.49 L776.86,649.97 L776.60,651.44 L776.34,652.92 L776.08,654.40 L775.82,655.88 L775.56,657.35 L775.29,658.83 L775.03,660.31 L774.77,661.78 L774.50,663.26 L774.23,664.74 L773.94,666.21 L773.66,667.68 L773.37,669.15 L773.09,670.63 L772.80,672.10 L772.51,673.57 L772.22,675.04 L771.93,676.52 L771.63,677.99 L771.34,679.46 L771.04,680.93 L770.74,682.40 L770.44,683.87 L770.15,685.34 L769.85,686.81 L769.55,688.28 L769.25,689.75 L768.95,691.22 L768.65,692.69 L768.35,694.16 L768.05,695.63 L767.76,697.10 L767.46,698.57 L767.16,700.04 L766.86,701.51 L766.57,702.98 L766.28,704.46 L765.99,705.93 L765.70,707.40 L765.42,708.87 L765.13,710.34 L764.84,711.82 L764.55,713.29 L764.26,714.76 L763.97,716.23 L763.67,717.70 L763.37,719.17 L763.07,720.64 L762.78,722.11 L762.48,723.58 L762.17,725.05 L761.86,726.52 L761.54,727.98 L761.20,729.45 L760.84,730.90 L760.48,732.36 L760.12,733.82 L759.76,735.27 L759.39,736.72 L759.01,738.18 L758.62,739.62 L758.19,741.06 L757.74,742.49 L757.26,743.91 L756.77,745.33 L756.28,746.74 L755.78,748.16 L755.28,749.57 L754.77,750.98 L754.25,752.39 L753.70,753.78 L753.13,755.17 L752.53,756.55 L751.93,757.92 L751.32,759.29 L750.71,760.66 L750.10,762.03 L749.47,763.39 L748.81,764.73 L748.09,766.04 L747.31,767.31 L746.48,768.55 L745.60,769.76 L744.71,770.97 L743.81,772.17 L742.90,773.36 L741.96,774.52 L740.98,775.62 L739.91,776.64 L738.75,777.56 L737.53,778.41 L736.27,779.22 L735.00,780.01 L733.72,780.80 L732.43,781.56 L731.13,782.27 L729.78,782.91 L728.40,783.48 L727.00,783.98 L725.57,784.45 L724.14,784.89 L722.71,785.33 L721.26,785.73 L719.81,786.08 L718.35,786.38 L716.87,786.64 L715.39,786.87 L713.90,787.09 L712.42,787.30 L710.94,787.52 L709.45,787.73 L707.97,787.95 L706.48,788.17 L705.00,788.38 L703.51,788.60 L702.03,788.81 L700.54,789.03 L699.06,789.23 L697.57,789.43 L696.08,789.63 L694.59,789.81 L693.10,790.00 L691.62,790.18 L690.13,790.36 L688.64,790.54 L687.15,790.72 L685.66,790.90 L684.17,791.08 L682.68,791.27 L681.19,791.45 L679.70,791.63 L678.21,791.81 L676.72,791.99 L675.23,792.17 L673.74,792.35 L672.26,792.53 L670.77,792.72 L669.28,792.90 L667.79,793.08 L666.30,793.26 L664.81,793.43 L663.32,793.60 L661.83,793.77 L660.33,793.93 L658.84,794.09 L657.35,794.24 L655.86,794.40 L654.37,794.55 L652.87,794.71 L651.38,794.86 L649.89,795.02 L648.40,795.18 L646.91,795.33 L645.41,795.49 L643.92,795.64 L642.43,795.80 L640.94,795.95 L639.45,796.11 L637.95,796.27 L636.46,796.42 L634.97,796.58 L633.48,796.73 L631.98,796.89 L630.49,797.04 L629.00,797.20" stroke="#0000ff" stroke-width="3.5" fill="none" stroke-linejoin="round" stroke-linecap="round" clip-path="url(#c4)"/>
<path d="M629.00,797.70 L630.50,797.57 L631.99,797.45 L633.49,797.32 L634.98,797.19 L636.48,797.07 L637.97,796.94 L639.47,796.81 L640.96,796.69 L642.46,796.56 L643.95,796.43 L645.45,796.31 L646.95,796.18 L648.44,796.05 L649.94,795.92 L651.43,795.80 L652.93,795.67 L654.42,795.54 L655.92,795.42 L657.41,795.29 L658.91,795.16 L660.41,795.04 L661.90,794.91 L663.40,794.78 L664.89,794.66 L666.39,794.53 L667.88,794.40 L669.38,794.28 L670.87,794.15 L672.37,794.03 L673.87,793.90 L675.36,793.79 L676.86,793.68 L678.35,793.57 L679.85,793.47 L681.35,793.36 L682.85,793.26 L684.34,793.16 L685.84,793.05 L687.34,792.95 L688.84,792.85 L690.33,792.74 L691.83,792.64 L693.33,792.54 L694.83,792.43 L696.32,792.33 L697.82,792.23 L699.32,792.12 L700.81,792.02 L702.31,791.92 L703.81,791.82 L705.31,791.71 L706.80,791.61 L708.30,791.51 L709.80,791.40 L711.30,791.30 L712.79,791.20 L714.29,791.09 L715.79,790.99 L717.28,790.88 L718.78,790.77 L720.28,790.64 L721.77,790.51 L723.26,790.36 L724.76,790.22 L726.25,790.07 L727.74,789.91 L729.24,789.76 L730.73,789.61 L732.22,789.46 L733.72,789.31 L735.21,789.16 L736.70,789.00 L738.20,788.85 L739.69,788.70 L741.18,788.55 L742.68,788.39 L744.17,788.23 L745.66,788.05 L747.14,787.85 L748.63,787.64 L750.12,787.43 L751.60,787.21 L753.08,786.99 L754.57,786.77 L756.05,786.55 L757.54,786.33 L759.02,786.11 L760.51,785.89 L761.99,785.67 L763.48,785.45 L764.96,785.23 L766.45,785.01 L767.93,784.78 L769.41,784.56 L770.90,784.32 L772.38,784.08 L773.86,783.83 L775.34,783.57 L776.81,783.31 L778.29,783.05 L779.77,782.79 L781.25,782.53 L782.73,782.27 L784.20,782.01 L785.68,781.75 L787.16,781.49 L788.64,781.23 L790.12,780.97 L791.60,780.71 L793.07,780.45 L794.55,780.17 L796.01,779.87 L797.47,779.53 L798.92,779.15 L800.37,778.75 L801.81,778.33 L803.25,777.91 L804.69,777.49 L806.13,777.07 L807.57,776.64 L809.00,776.20 L810.41,775.71 L811.77,775.14 L813.09,774.46 L814.36,773.69 L815.60,772.86 L816.83,772.00 L818.04,771.12 L819.21,770.20 L820.30,769.21 L821.29,768.13 L822.17,766.95 L822.97,765.70 L823.73,764.41 L824.46,763.11 L825.17,761.79 L825.84,760.45 L826.44,759.08 L826.98,757.69 L827.48,756.28 L827.96,754.86 L828.44,753.43 L828.90,752.01 L829.37,750.58 L829.82,749.15 L830.26,747.71 L830.68,746.27 L831.08,744.83 L831.49,743.38 L831.89,741.94 L832.29,740.49 L832.69,739.04 L833.08,737.60 L833.47,736.15 L833.85,734.69 L834.21,733.24 L834.56,731.78 L834.90,730.32 L835.24,728.85 L835.57,727.39 L835.90,725.93 L836.23,724.46 L836.56,723.00 L836.89,721.53 L837.21,720.07 L837.53,718.60 L837.84,717.13 L838.15,715.66 L838.46,714.20 L838.76,712.73 L839.07,711.26 L839.38,709.79 L839.68,708.32 L839.99,706.85 L840.30,705.38 L840.60,703.91 L840.91,702.44 L841.22,700.97 L841.52,699.50 L841.83,698.03 L842.13,696.56 L842.44,695.09 L842.74,693.63 L843.04,692.15 L843.33,690.68 L843.61,689.21 L843.87,687.73 L844.13,686.25 L844.37,684.77 L844.61,683.29 L844.85,681.81 L845.10,680.33 L845.34,678.85 L845.58,677.36 L845.82,675.88 L846.07,674.40 L846.31,672.92 L846.57,671.44 L846.85,669.97 L847.13,668.49 L847.42,667.02 L847.71,665.55 L848.00,664.08 L848.29,662.61 L848.56,661.13 L848.82,659.65 L849.07,658.17 L849.29,656.69 L849.51,655.20 L849.73,653.72 L849.95,652.23 L850.17,650.75 L850.39,649.26 L850.61,647.78 L850.83,646.30 L851.05,644.81 L851.28,643.33 L851.51,641.84 L851.73,640.36 L851.96,638.88 L852.19,637.39 L852.42,635.91 L852.65,634.43 L852.89,632.95 L853.13,631.46 L853.38,629.98 L853.62,628.50 L853.87,627.02 L854.12,625.54 L854.37,624.06 L854.62,622.58 L854.86,621.10 L855.11,619.62 L855.36,618.14 L855.61,616.66 L855.85,615.18 L856.10,613.70 L856.35,612.22 L856.60,610.74 L856.86,609.26 L857.13,607.79 L857.41,606.31 L857.69,604.84 L857.99,603.37 L858.28,601.90 L858.58,600.43 L858.89,598.96 L859.22,597.49 L859.55,596.03 L859.90,594.57 L860.26,593.11 L860.62,591.66 L860.99,590.20 L861.37,588.75 L861.76,587.30 L862.17,585.86 L862.59,584.42 L863.03,582.98 L863.47,581.55 L863.91,580.11 L864.36,578.68 L864.82,577.25 L865.29,575.83 L865.76,574.40 L866.24,572.98 L866.73,571.56 L867.22,570.15 L867.73,568.73 L868.26,567.33 L868.84,565.95 L869.45,564.58 L870.10,563.23 L870.77,561.89 L871.45,560.56 L872.16,559.24 L872.92,557.95 L873.73,556.69 L874.57,555.45 L875.45,554.23 L876.34,553.03 L877.26,551.85 L878.21,550.69 L879.21,549.58 L880.24,548.49 L881.30,547.43 L882.37,546.39 L883.49,545.39 L884.65,544.46 L885.86,543.61 L887.13,542.81 L888.42,542.05 L889.72,541.31 L891.04,540.59 L892.37,539.91 L893.72,539.25 L895.08,538.63 L896.46,538.04 L897.85,537.50 L899.27,537.02 L900.70,536.58 L902.15,536.18 L903.60,535.79 L905.05,535.41 L906.50,535.03 L907.96,534.66 L909.41,534.32 L910.88,534.00 L912.35,533.71 L913.83,533.44 L915.30,533.17 L916.78,532.91 L918.26,532.65 L919.74,532.40 L921.22,532.14 L922.70,531.88 L924.17,531.62 L925.65,531.36 L927.13,531.11 L928.61,530.88 L930.10,530.66 L931.59,530.47 L933.08,530.30 L934.57,530.15 L936.06,529.99 L937.56,529.84 L939.05,529.70 L940.54,529.55 L942.04,529.40 L943.53,529.25 L945.02,529.10 L946.52,528.95 L948.01,528.80 L949.50,528.65 L950.00,528.60" stroke="#0000ff" stroke-width="3.5" fill="none" stroke-linejoin="round" stroke-linecap="round" clip-path="url(#c4)"/>
<text transform="translate(558.60,681.60) rotate(-90)" text-anchor="middle" class="b" style="font-size:31.2px">M (emu/g)</text>
<text x="811.67" y="901.40" text-anchor="middle" class="b">Magnetic Field (kOe)</text>
<clipPath id="c5"><rect x="118.60" y="964.50" width="364.20" height="318.70"/></clipPath>
<path d="M155.02,1283.20V1277.20M227.86,1283.20V1277.20M300.70,1283.20V1277.20M373.54,1283.20V1277.20M446.38,1283.20V1277.20M118.60,964.50H124.60M118.60,1044.17H124.60M118.60,1123.85H124.60M118.60,1203.53H124.60M118.60,1283.20H124.60M118.60,1004.34H122.10M118.60,1084.01H122.10M118.60,1163.69H122.10M118.60,1243.36H122.10" stroke="#1a1a1a" stroke-width="1" fill="none"/>
<rect x="118.60" y="964.50" width="364.20" height="318.70" fill="none" stroke="#303030" stroke-width="1.1"/>
<text x="132.26" y="1312.70" class="r" fill="#000" xml:space="preserve">-20</text>
<text x="205.10" y="1312.70" class="r" fill="#000">-</text><path d="M763,0L583,0L583,1147C540,1106 483,1064 413,1023C343,982 280,951 224,930L224,1104C325,1151 413,1208 489,1274C565,1340 619,1404 650,1466L763,1466Z" fill="#000" transform="translate(215.59,1312.70) scale(0.015381,-0.015381)"/><text x="233.10" y="1312.70" class="r" fill="#000" xml:space="preserve">0</text>
<text x="291.94" y="1312.70" class="r" fill="#000" xml:space="preserve">0</text>
<path d="M763,0L583,0L583,1147C540,1106 483,1064 413,1023C343,982 280,951 224,930L224,1104C325,1151 413,1208 489,1274C565,1340 619,1404 650,1466L763,1466Z" fill="#000" transform="translate(356.02,1312.70) scale(0.015381,-0.015381)"/><text x="373.54" y="1312.70" class="r" fill="#000" xml:space="preserve">0</text>
<text x="428.86" y="1312.70" class="r" fill="#000" xml:space="preserve">20</text>
<text x="77.06" y="972.90" class="r" fill="#000" xml:space="preserve">50</text>
<text x="77.06" y="1052.58" class="r" fill="#000" xml:space="preserve">25</text>
<text x="94.58" y="1132.25" class="r" fill="#000" xml:space="preserve">0</text>
<text x="66.57" y="1211.93" class="r" fill="#000" xml:space="preserve">-25</text>
<text x="66.57" y="1291.60" class="r" fill="#000" xml:space="preserve">-50</text>
<path d="M118.00,1244.00 L119.50,1243.96 L121.00,1243.93 L122.50,1243.89 L124.00,1243.85 L125.50,1243.81 L127.00,1243.78 L128.50,1243.74 L130.00,1243.70 L131.50,1243.66 L133.00,1243.63 L134.50,1243.59 L136.00,1243.55 L137.50,1243.51 L138.99,1243.48 L140.49,1243.44 L141.99,1243.40 L143.49,1243.36 L144.99,1243.33 L146.49,1243.29 L147.99,1243.25 L149.49,1243.21 L150.99,1243.18 L152.49,1243.14 L153.99,1243.10 L155.49,1243.06 L156.99,1243.03 L158.49,1242.99 L159.99,1242.95 L161.49,1242.91 L162.99,1242.88 L164.49,1242.84 L165.99,1242.80 L167.49,1242.76 L168.99,1242.73 L170.49,1242.69 L171.99,1242.65 L173.49,1242.61 L174.99,1242.58 L176.49,1242.54 L177.99,1242.50 L179.49,1242.47 L180.98,1242.43 L182.48,1242.39 L183.98,1242.35 L185.48,1242.31 L186.98,1242.28 L188.48,1242.24 L189.98,1242.19 L191.48,1242.14 L192.98,1242.09 L194.48,1242.04 L195.98,1241.98 L197.48,1241.93 L198.98,1241.87 L200.48,1241.82 L201.98,1241.76 L203.47,1241.71 L204.97,1241.65 L206.47,1241.60 L207.97,1241.54 L209.47,1241.49 L210.97,1241.43 L212.47,1241.38 L213.97,1241.32 L215.47,1241.27 L216.97,1241.21 L218.47,1241.16 L219.96,1241.10 L221.46,1241.05 L222.96,1240.99 L224.46,1240.94 L225.96,1240.88 L227.46,1240.83 L228.96,1240.77 L230.46,1240.72 L231.96,1240.66 L233.46,1240.61 L234.96,1240.55 L236.45,1240.50 L237.95,1240.44 L239.45,1240.39 L240.95,1240.33 L242.45,1240.28 L243.95,1240.22 L245.45,1240.17 L246.95,1240.10 L248.45,1240.03 L249.94,1239.93 L251.44,1239.82 L252.93,1239.68 L254.42,1239.52 L255.91,1239.37 L257.40,1239.21 L258.90,1239.05 L260.39,1238.89 L261.88,1238.72 L263.37,1238.55 L264.85,1238.36 L266.33,1238.13 L267.80,1237.85 L269.26,1237.51 L270.71,1237.15 L272.16,1236.77 L273.61,1236.38 L275.06,1235.99 L276.51,1235.60 L277.95,1235.19 L279.37,1234.75 L280.76,1234.22 L282.10,1233.60 L283.39,1232.87 L284.65,1232.07 L285.85,1231.20 L286.96,1230.25 L287.95,1229.19 L288.81,1228.02 L289.57,1226.75 L290.25,1225.43 L290.89,1224.08 L291.47,1222.71 L291.96,1221.30 L292.37,1219.87 L292.73,1218.42 L293.05,1216.96 L293.36,1215.49 L293.66,1214.02 L293.95,1212.55 L294.22,1211.07 L294.45,1209.60 L294.66,1208.11 L294.83,1206.62 L294.98,1205.13 L295.14,1203.64 L295.29,1202.14 L295.43,1200.65 L295.58,1199.16 L295.73,1197.67 L295.88,1196.17 L296.03,1194.68 L296.18,1193.19 L296.31,1191.69 L296.44,1190.20 L296.54,1188.70 L296.63,1187.21 L296.71,1185.71 L296.79,1184.21 L296.86,1182.71 L296.94,1181.21 L297.01,1179.72 L297.09,1178.22 L297.16,1176.72 L297.24,1175.22 L297.31,1173.72 L297.39,1172.23 L297.46,1170.73 L297.54,1169.23 L297.61,1167.73 L297.69,1166.23 L297.76,1164.73 L297.84,1163.24 L297.91,1161.74 L297.99,1160.24 L298.06,1158.74 L298.14,1157.24 L298.21,1155.74 L298.29,1154.25 L298.36,1152.75 L298.44,1151.25 L298.51,1149.75 L298.59,1148.25 L298.66,1146.76 L298.74,1145.26 L298.81,1143.76 L298.89,1142.26 L298.96,1140.76 L299.04,1139.26 L299.11,1137.77 L299.19,1136.27 L299.26,1134.77 L299.34,1133.27 L299.41,1131.77 L299.48,1130.27 L299.55,1128.78 L299.62,1127.28 L299.68,1125.78 L299.75,1124.28 L299.81,1122.78 L299.88,1121.28 L299.94,1119.78 L300.01,1118.29 L300.07,1116.79 L300.14,1115.29 L300.20,1113.79 L300.27,1112.29 L300.33,1110.79 L300.40,1109.29 L300.46,1107.79 L300.53,1106.30 L300.59,1104.80 L300.66,1103.30 L300.72,1101.80 L300.79,1100.30 L300.86,1098.80 L300.93,1097.30 L301.00,1095.81 L301.07,1094.31 L301.15,1092.81 L301.22,1091.31 L301.29,1089.81 L301.36,1088.31 L301.43,1086.82 L301.50,1085.32 L301.58,1083.82 L301.65,1082.32 L301.72,1080.82 L301.79,1079.32 L301.87,1077.83 L301.94,1076.33 L302.02,1074.83 L302.10,1073.33 L302.19,1071.83 L302.28,1070.34 L302.37,1068.84 L302.46,1067.34 L302.55,1065.84 L302.64,1064.35 L302.73,1062.85 L302.82,1061.35 L302.91,1059.85 L303.00,1058.36 L303.10,1056.86 L303.22,1055.37 L303.34,1053.87 L303.49,1052.38 L303.64,1050.89 L303.79,1049.39 L303.95,1047.90 L304.11,1046.41 L304.27,1044.92 L304.43,1043.43 L304.59,1041.94 L304.77,1040.45 L304.97,1038.96 L305.21,1037.48 L305.49,1036.01 L305.80,1034.55 L306.12,1033.08 L306.46,1031.62 L306.81,1030.17 L307.21,1028.73 L307.67,1027.32 L308.23,1025.94 L308.87,1024.59 L309.58,1023.28 L310.34,1021.99 L311.14,1020.72 L311.97,1019.48 L312.85,1018.27 L313.77,1017.12 L314.79,1016.07 L315.91,1015.16 L317.15,1014.37 L318.45,1013.68 L319.80,1013.03 L321.16,1012.42 L322.55,1011.86 L323.95,1011.37 L325.38,1010.95 L326.84,1010.60 L328.30,1010.29 L329.77,1009.99 L331.24,1009.70 L332.71,1009.41 L334.19,1009.12 L335.66,1008.84 L337.14,1008.59 L338.62,1008.37 L340.10,1008.18 L341.60,1008.03 L343.09,1007.89 L344.58,1007.76 L346.08,1007.64 L347.57,1007.52 L349.07,1007.40 L350.56,1007.30 L352.06,1007.21 L353.56,1007.13 L355.06,1007.05 L356.56,1006.98 L358.05,1006.91 L359.55,1006.83 L361.05,1006.76 L362.55,1006.68 L364.05,1006.61 L365.55,1006.54 L367.04,1006.47 L368.54,1006.40 L370.04,1006.33 L371.54,1006.27 L373.04,1006.22 L374.54,1006.16 L376.04,1006.11 L377.54,1006.06 L379.04,1006.01 L380.54,1005.96 L382.04,1005.91 L383.53,1005.86 L385.03,1005.81 L386.53,1005.76 L388.03,1005.71 L389.53,1005.66 L391.03,1005.61 L392.53,1005.56 L394.03,1005.51 L395.53,1005.46 L397.03,1005.41 L398.53,1005.36 L400.03,1005.31 L401.53,1005.26 L403.02,1005.21 L404.52,1005.16 L406.02,1005.11 L407.52,1005.06 L409.02,1005.01 L410.52,1004.97 L412.02,1004.92 L413.52,1004.87 L415.02,1004.82 L416.52,1004.77 L418.02,1004.72 L419.52,1004.67 L421.02,1004.62 L422.52,1004.57 L424.02,1004.52 L425.51,1004.48 L427.01,1004.44 L428.51,1004.40 L430.01,1004.36 L431.51,1004.32 L433.01,1004.29 L434.51,1004.25 L436.01,1004.21 L437.51,1004.17 L439.01,1004.13 L440.51,1004.10 L442.01,1004.06 L443.51,1004.02 L445.01,1003.98 L446.51,1003.95 L448.01,1003.91 L449.51,1003.87 L451.01,1003.83 L452.51,1003.79 L454.01,1003.76 L455.51,1003.72 L457.01,1003.68 L458.51,1003.64 L460.01,1003.60 L461.51,1003.57 L463.01,1003.53 L464.50,1003.49 L466.00,1003.45 L467.50,1003.42 L469.00,1003.38 L470.50,1003.34 L472.00,1003.30 L473.50,1003.26 L475.00,1003.23 L476.50,1003.19 L478.00,1003.15 L479.50,1003.11 L481.00,1003.08 L482.50,1003.04 L484.00,1003.00" stroke="#ff0000" stroke-width="3.5" fill="none" stroke-linejoin="round" stroke-linecap="round" clip-path="url(#c5)"/>
<path d="M117.30,1255.00 L118.80,1254.98 L120.30,1254.95 L121.80,1254.93 L123.30,1254.90 L124.80,1254.88 L126.30,1254.85 L127.80,1254.83 L129.30,1254.80 L130.80,1254.78 L132.30,1254.75 L133.80,1254.73 L135.30,1254.70 L136.80,1254.68 L138.30,1254.65 L139.80,1254.63 L141.30,1254.60 L142.80,1254.58 L144.30,1254.55 L145.80,1254.53 L147.30,1254.50 L148.80,1254.48 L150.30,1254.45 L151.80,1254.43 L153.30,1254.40 L154.80,1254.38 L156.30,1254.35 L157.80,1254.33 L159.30,1254.30 L160.80,1254.28 L162.30,1254.25 L163.80,1254.23 L165.30,1254.20 L166.80,1254.18 L168.30,1254.15 L169.80,1254.13 L171.30,1254.10 L172.80,1254.08 L174.30,1254.05 L175.80,1254.03 L177.30,1254.00 L178.80,1253.98 L180.31,1253.95 L181.81,1253.93 L183.31,1253.90 L184.81,1253.88 L186.31,1253.85 L187.81,1253.82 L189.31,1253.78 L190.80,1253.74 L192.30,1253.68 L193.80,1253.63 L195.30,1253.57 L196.80,1253.51 L198.30,1253.45 L199.80,1253.40 L201.30,1253.34 L202.80,1253.28 L204.30,1253.22 L205.80,1253.16 L207.30,1253.11 L208.80,1253.05 L210.29,1252.99 L211.79,1252.93 L213.29,1252.87 L214.79,1252.82 L216.29,1252.76 L217.79,1252.70 L219.29,1252.64 L220.79,1252.58 L222.29,1252.52 L223.79,1252.46 L225.29,1252.39 L226.78,1252.31 L228.28,1252.23 L229.78,1252.15 L231.28,1252.06 L232.78,1251.97 L234.27,1251.88 L235.77,1251.80 L237.27,1251.71 L238.77,1251.62 L240.26,1251.53 L241.76,1251.44 L243.26,1251.35 L244.76,1251.26 L246.25,1251.17 L247.75,1251.06 L249.24,1250.92 L250.73,1250.75 L252.22,1250.55 L253.70,1250.34 L255.19,1250.12 L256.67,1249.90 L258.16,1249.68 L259.64,1249.46 L261.12,1249.24 L262.61,1249.01 L264.08,1248.77 L265.56,1248.49 L267.02,1248.18 L268.48,1247.84 L269.93,1247.47 L271.38,1247.08 L272.83,1246.69 L274.26,1246.27 L275.67,1245.79 L277.03,1245.22 L278.33,1244.52 L279.58,1243.73 L280.81,1242.87 L282.01,1241.98 L283.20,1241.07 L284.34,1240.13 L285.40,1239.11 L286.34,1238.00 L287.16,1236.79 L287.90,1235.50 L288.58,1234.17 L289.25,1232.83 L289.89,1231.48 L290.50,1230.11 L291.04,1228.72 L291.51,1227.31 L291.91,1225.87 L292.27,1224.41 L292.61,1222.95 L292.94,1221.49 L293.27,1220.03 L293.58,1218.56 L293.88,1217.09 L294.14,1215.62 L294.37,1214.13 L294.58,1212.65 L294.78,1211.16 L294.98,1209.68 L295.18,1208.19 L295.37,1206.70 L295.56,1205.21 L295.76,1203.72 L295.94,1202.24 L296.11,1200.75 L296.27,1199.25 L296.39,1197.76 L296.50,1196.26 L296.60,1194.77 L296.70,1193.27 L296.79,1191.77 L296.88,1190.28 L296.98,1188.78 L297.07,1187.28 L297.16,1185.78 L297.26,1184.29 L297.35,1182.79 L297.44,1181.29 L297.53,1179.79 L297.62,1178.30 L297.70,1176.80 L297.77,1175.30 L297.83,1173.80 L297.90,1172.30 L297.96,1170.80 L298.02,1169.30 L298.08,1167.80 L298.14,1166.30 L298.20,1164.81 L298.26,1163.31 L298.32,1161.81 L298.38,1160.31 L298.44,1158.81 L298.50,1157.31 L298.56,1155.81 L298.63,1154.31 L298.70,1152.81 L298.77,1151.32 L298.84,1149.82 L298.92,1148.32 L298.99,1146.82 L299.07,1145.32 L299.14,1143.82 L299.21,1142.32 L299.29,1140.83 L299.36,1139.33 L299.43,1137.83 L299.51,1136.33 L299.58,1134.83 L299.65,1133.33 L299.71,1131.83 L299.77,1130.33 L299.83,1128.84 L299.88,1127.34 L299.93,1125.84 L299.99,1124.34 L300.04,1122.84 L300.10,1121.34 L300.15,1119.84 L300.20,1118.34 L300.26,1116.84 L300.31,1115.34 L300.36,1113.84 L300.42,1112.34 L300.47,1110.84 L300.52,1109.34 L300.57,1107.84 L300.62,1106.34 L300.67,1104.84 L300.72,1103.35 L300.77,1101.85 L300.82,1100.35 L300.87,1098.85 L300.92,1097.35 L300.98,1095.85 L301.03,1094.35 L301.08,1092.85 L301.14,1091.35 L301.21,1089.85 L301.27,1088.35 L301.34,1086.85 L301.41,1085.35 L301.48,1083.86 L301.55,1082.36 L301.62,1080.86 L301.69,1079.36 L301.76,1077.86 L301.83,1076.36 L301.90,1074.86 L301.97,1073.37 L302.04,1071.87 L302.12,1070.37 L302.19,1068.87 L302.27,1067.37 L302.34,1065.87 L302.42,1064.37 L302.50,1062.88 L302.57,1061.38 L302.65,1059.88 L302.73,1058.38 L302.80,1056.88 L302.89,1055.38 L302.98,1053.89 L303.09,1052.39 L303.21,1050.90 L303.35,1049.40 L303.49,1047.91 L303.63,1046.42 L303.77,1044.92 L303.92,1043.43 L304.06,1041.94 L304.22,1040.44 L304.38,1038.95 L304.55,1037.46 L304.74,1035.97 L304.94,1034.49 L305.14,1033.00 L305.34,1031.51 L305.55,1030.03 L305.75,1028.54 L305.97,1027.06 L306.21,1025.58 L306.49,1024.11 L306.82,1022.65 L307.20,1021.20 L307.60,1019.76 L308.03,1018.32 L308.48,1016.89 L308.98,1015.49 L309.54,1014.11 L310.20,1012.78 L310.93,1011.48 L311.71,1010.20 L312.53,1008.95 L313.40,1007.75 L314.35,1006.63 L315.41,1005.61 L316.56,1004.68 L317.76,1003.80 L319.00,1002.97 L320.27,1002.18 L321.57,1001.47 L322.91,1000.85 L324.30,1000.33 L325.73,999.88 L327.16,999.46 L328.61,999.05 L330.06,998.67 L331.51,998.32 L332.98,998.02 L334.45,997.78 L335.94,997.59 L337.43,997.42 L338.92,997.26 L340.41,997.11 L341.90,996.96 L343.40,996.80 L344.89,996.65 L346.38,996.50 L347.88,996.36 L349.37,996.23 L350.87,996.11 L352.36,995.99 L353.86,995.89 L355.35,995.78 L356.85,995.68 L358.35,995.58 L359.84,995.48 L361.34,995.37 L362.84,995.27 L364.34,995.17 L365.83,995.07 L367.33,994.97 L368.83,994.88 L370.33,994.80 L371.82,994.74 L373.32,994.68 L374.82,994.63 L376.32,994.58 L377.82,994.53 L379.32,994.48 L380.82,994.43 L382.32,994.38 L383.82,994.33 L385.32,994.28 L386.82,994.23 L388.32,994.18 L389.82,994.13 L391.32,994.08 L392.82,994.03 L394.32,993.98 L395.82,993.93 L397.31,993.88 L398.81,993.83 L400.31,993.78 L401.81,993.73 L403.31,993.68 L404.81,993.63 L406.31,993.58 L407.81,993.53 L409.31,993.48 L410.81,993.43 L412.31,993.38 L413.81,993.33 L415.31,993.28 L416.81,993.23 L418.31,993.18 L419.81,993.13 L421.31,993.08 L422.81,993.04 L424.31,992.99 L425.81,992.95 L427.31,992.91 L428.81,992.87 L430.31,992.84 L431.81,992.80 L433.30,992.76 L434.80,992.72 L436.30,992.68 L437.80,992.65 L439.30,992.61 L440.80,992.57 L442.30,992.53 L443.80,992.50 L445.30,992.46 L446.80,992.42 L448.30,992.38 L449.80,992.34 L451.30,992.31 L452.80,992.27 L454.30,992.23 L455.80,992.19 L457.30,992.16 L458.80,992.12 L460.30,992.08 L461.80,992.04 L463.30,992.00 L464.80,991.97 L466.30,991.93 L467.80,991.89 L469.30,991.85 L470.80,991.82 L472.30,991.78 L473.80,991.74 L475.30,991.70 L476.80,991.66 L478.30,991.63 L479.80,991.59 L481.30,991.55 L482.80,991.51 L483.30,991.50" stroke="#0000ff" stroke-width="3.5" fill="none" stroke-linejoin="round" stroke-linecap="round" clip-path="url(#c5)"/>
<path d="M118.70,1255.00 L120.20,1254.98 L121.70,1254.95 L123.20,1254.93 L124.70,1254.90 L126.20,1254.88 L127.70,1254.85 L129.20,1254.83 L130.70,1254.80 L132.20,1254.78 L133.70,1254.75 L135.20,1254.73 L136.70,1254.70 L138.20,1254.68 L139.70,1254.65 L141.20,1254.63 L142.70,1254.60 L144.20,1254.58 L145.70,1254.55 L147.20,1254.53 L148.70,1254.50 L150.20,1254.48 L151.70,1254.45 L153.20,1254.43 L154.70,1254.40 L156.20,1254.38 L157.70,1254.35 L159.20,1254.33 L160.70,1254.30 L162.20,1254.28 L163.70,1254.25 L165.20,1254.23 L166.70,1254.20 L168.20,1254.18 L169.70,1254.15 L171.20,1254.13 L172.70,1254.10 L174.20,1254.08 L175.70,1254.05 L177.20,1254.03 L178.70,1254.00 L180.20,1253.98 L181.71,1253.95 L183.21,1253.93 L184.71,1253.90 L186.21,1253.88 L187.71,1253.85 L189.21,1253.82 L190.71,1253.78 L192.20,1253.74 L193.70,1253.68 L195.20,1253.63 L196.70,1253.57 L198.20,1253.51 L199.70,1253.45 L201.20,1253.40 L202.70,1253.34 L204.20,1253.28 L205.70,1253.22 L207.20,1253.16 L208.70,1253.11 L210.20,1253.05 L211.69,1252.99 L213.19,1252.93 L214.69,1252.87 L216.19,1252.82 L217.69,1252.76 L219.19,1252.70 L220.69,1252.64 L222.19,1252.58 L223.69,1252.52 L225.19,1252.46 L226.69,1252.39 L228.18,1252.31 L229.68,1252.23 L231.18,1252.15 L232.68,1252.06 L234.18,1251.97 L235.67,1251.88 L237.17,1251.80 L238.67,1251.71 L240.17,1251.62 L241.66,1251.53 L243.16,1251.44 L244.66,1251.35 L246.16,1251.26 L247.65,1251.17 L249.15,1251.06 L250.64,1250.92 L252.13,1250.75 L253.62,1250.55 L255.10,1250.34 L256.59,1250.12 L258.07,1249.90 L259.56,1249.68 L261.04,1249.46 L262.52,1249.24 L264.01,1249.01 L265.48,1248.77 L266.96,1248.49 L268.42,1248.18 L269.88,1247.84 L271.33,1247.47 L272.78,1247.08 L274.23,1246.69 L275.66,1246.27 L277.07,1245.79 L278.43,1245.22 L279.73,1244.52 L280.98,1243.73 L282.21,1242.87 L283.41,1241.98 L284.60,1241.07 L285.74,1240.13 L286.80,1239.11 L287.74,1238.00 L288.56,1236.79 L289.30,1235.50 L289.98,1234.17 L290.65,1232.83 L291.29,1231.48 L291.90,1230.11 L292.44,1228.72 L292.91,1227.31 L293.31,1225.87 L293.67,1224.41 L294.01,1222.95 L294.34,1221.49 L294.67,1220.03 L294.98,1218.56 L295.28,1217.09 L295.54,1215.62 L295.77,1214.13 L295.98,1212.65 L296.18,1211.16 L296.38,1209.68 L296.58,1208.19 L296.77,1206.70 L296.96,1205.21 L297.16,1203.72 L297.34,1202.24 L297.51,1200.75 L297.67,1199.25 L297.79,1197.76 L297.90,1196.26 L298.00,1194.77 L298.10,1193.27 L298.19,1191.77 L298.28,1190.28 L298.38,1188.78 L298.47,1187.28 L298.56,1185.78 L298.66,1184.29 L298.75,1182.79 L298.84,1181.29 L298.93,1179.79 L299.02,1178.30 L299.10,1176.80 L299.17,1175.30 L299.23,1173.80 L299.30,1172.30 L299.36,1170.80 L299.42,1169.30 L299.48,1167.80 L299.54,1166.30 L299.60,1164.81 L299.66,1163.31 L299.72,1161.81 L299.78,1160.31 L299.84,1158.81 L299.90,1157.31 L299.96,1155.81 L300.03,1154.31 L300.10,1152.81 L300.17,1151.32 L300.24,1149.82 L300.32,1148.32 L300.39,1146.82 L300.47,1145.32 L300.54,1143.82 L300.61,1142.32 L300.69,1140.83 L300.76,1139.33 L300.83,1137.83 L300.91,1136.33 L300.98,1134.83 L301.05,1133.33 L301.11,1131.83 L301.17,1130.33 L301.23,1128.84 L301.28,1127.34 L301.33,1125.84 L301.39,1124.34 L301.44,1122.84 L301.50,1121.34 L301.55,1119.84 L301.60,1118.34 L301.66,1116.84 L301.71,1115.34 L301.76,1113.84 L301.82,1112.34 L301.87,1110.84 L301.92,1109.34 L301.97,1107.84 L302.02,1106.34 L302.07,1104.84 L302.12,1103.35 L302.17,1101.85 L302.22,1100.35 L302.27,1098.85 L302.32,1097.35 L302.38,1095.85 L302.43,1094.35 L302.48,1092.85 L302.54,1091.35 L302.61,1089.85 L302.67,1088.35 L302.74,1086.85 L302.81,1085.35 L302.88,1083.86 L302.95,1082.36 L303.02,1080.86 L303.09,1079.36 L303.16,1077.86 L303.23,1076.36 L303.30,1074.86 L303.37,1073.37 L303.44,1071.87 L303.52,1070.37 L303.59,1068.87 L303.67,1067.37 L303.74,1065.87 L303.82,1064.37 L303.90,1062.88 L303.97,1061.38 L304.05,1059.88 L304.13,1058.38 L304.20,1056.88 L304.29,1055.38 L304.38,1053.89 L304.49,1052.39 L304.61,1050.90 L304.75,1049.40 L304.89,1047.91 L305.03,1046.42 L305.17,1044.92 L305.32,1043.43 L305.46,1041.94 L305.62,1040.44 L305.78,1038.95 L305.95,1037.46 L306.14,1035.97 L306.34,1034.49 L306.54,1033.00 L306.74,1031.51 L306.95,1030.03 L307.15,1028.54 L307.37,1027.06 L307.61,1025.58 L307.89,1024.11 L308.22,1022.65 L308.60,1021.20 L309.00,1019.76 L309.43,1018.32 L309.88,1016.89 L310.38,1015.49 L310.94,1014.11 L311.60,1012.78 L312.33,1011.48 L313.11,1010.20 L313.93,1008.95 L314.80,1007.75 L315.75,1006.63 L316.81,1005.61 L317.96,1004.68 L319.16,1003.80 L320.40,1002.97 L321.67,1002.18 L322.97,1001.47 L324.31,1000.85 L325.70,1000.33 L327.13,999.88 L328.56,999.46 L330.01,999.05 L331.46,998.67 L332.91,998.32 L334.38,998.02 L335.85,997.78 L337.34,997.59 L338.83,997.42 L340.32,997.26 L341.81,997.11 L343.30,996.96 L344.80,996.80 L346.29,996.65 L347.78,996.50 L349.28,996.36 L350.77,996.23 L352.27,996.11 L353.76,995.99 L355.26,995.89 L356.75,995.78 L358.25,995.68 L359.75,995.58 L361.24,995.48 L362.74,995.37 L364.24,995.27 L365.74,995.17 L367.23,995.07 L368.73,994.97 L370.23,994.88 L371.73,994.80 L373.22,994.74 L374.72,994.68 L376.22,994.63 L377.72,994.58 L379.22,994.53 L380.72,994.48 L382.22,994.43 L383.72,994.38 L385.22,994.33 L386.72,994.28 L388.22,994.23 L389.72,994.18 L391.22,994.13 L392.72,994.08 L394.22,994.03 L395.72,993.98 L397.22,993.93 L398.71,993.88 L400.21,993.83 L401.71,993.78 L403.21,993.73 L404.71,993.68 L406.21,993.63 L407.71,993.58 L409.21,993.53 L410.71,993.48 L412.21,993.43 L413.71,993.38 L415.21,993.33 L416.71,993.28 L418.21,993.23 L419.71,993.18 L421.21,993.13 L422.71,993.08 L424.21,993.04 L425.71,992.99 L427.21,992.95 L428.71,992.91 L430.21,992.87 L431.71,992.84 L433.21,992.80 L434.70,992.76 L436.20,992.72 L437.70,992.68 L439.20,992.65 L440.70,992.61 L442.20,992.57 L443.70,992.53 L445.20,992.50 L446.70,992.46 L448.20,992.42 L449.70,992.38 L451.20,992.34 L452.70,992.31 L454.20,992.27 L455.70,992.23 L457.20,992.19 L458.70,992.16 L460.20,992.12 L461.70,992.08 L463.20,992.04 L464.70,992.00 L466.20,991.97 L467.70,991.93 L469.20,991.89 L470.70,991.85 L472.20,991.82 L473.70,991.78 L475.20,991.74 L476.70,991.70 L478.20,991.66 L479.70,991.63 L481.20,991.59 L482.70,991.55 L484.20,991.51 L484.70,991.50" stroke="#0000ff" stroke-width="3.5" fill="none" stroke-linejoin="round" stroke-linecap="round" clip-path="url(#c5)"/>
<text transform="translate(46.90,1144.70) rotate(-90)" text-anchor="middle" class="b" style="font-size:31.2px">M (emu/g)</text>
<text x="300.70" y="1364.40" text-anchor="middle" class="b">Magnetic Field (kOe)</text>
<clipPath id="c6"><rect x="629.50" y="964.50" width="363.90" height="318.70"/></clipPath>
<path d="M659.83,1283.20V1277.20M735.64,1283.20V1277.20M811.45,1283.20V1277.20M887.26,1283.20V1277.20M963.08,1283.20V1277.20M629.50,1012.31H635.50M629.50,1091.98H635.50M629.50,1171.65H635.50M629.50,1251.33H635.50M629.50,972.47H633.00M629.50,1052.14H633.00M629.50,1131.82H633.00M629.50,1211.49H633.00" stroke="#1a1a1a" stroke-width="1" fill="none"/>
<rect x="629.50" y="964.50" width="363.90" height="318.70" fill="none" stroke="#303030" stroke-width="1.1"/>
<text x="629.17" y="1312.70" class="r" fill="#000" xml:space="preserve">0.00</text>
<text x="704.98" y="1312.70" class="r" fill="#000" xml:space="preserve">0.25</text>
<text x="780.80" y="1312.70" class="r" fill="#000" xml:space="preserve">0.50</text>
<text x="856.61" y="1312.70" class="r" fill="#000" xml:space="preserve">0.75</text>
<path d="M763,0L583,0L583,1147C540,1106 483,1064 413,1023C343,982 280,951 224,930L224,1104C325,1151 413,1208 489,1274C565,1340 619,1404 650,1466L763,1466Z" fill="#000" transform="translate(932.42,1312.70) scale(0.015381,-0.015381)"/><text x="949.94" y="1312.70" class="r" fill="#000" xml:space="preserve">.00</text>
<path d="M763,0L583,0L583,1147C540,1106 483,1064 413,1023C343,982 280,951 224,930L224,1104C325,1151 413,1208 489,1274C565,1340 619,1404 650,1466L763,1466Z" fill="#000" transform="translate(587.96,1020.71) scale(0.015381,-0.015381)"/><text x="605.48" y="1020.71" class="r" fill="#000" xml:space="preserve">5</text>
<path d="M763,0L583,0L583,1147C540,1106 483,1064 413,1023C343,982 280,951 224,930L224,1104C325,1151 413,1208 489,1274C565,1340 619,1404 650,1466L763,1466Z" fill="#000" transform="translate(587.96,1100.38) scale(0.015381,-0.015381)"/><text x="605.48" y="1100.38" class="r" fill="#000" xml:space="preserve">0</text>
<text x="605.48" y="1180.06" class="r" fill="#000" xml:space="preserve">5</text>
<text x="605.48" y="1259.73" class="r" fill="#000" xml:space="preserve">0</text>
<polyline points="659.7,987.4 735.2,1025.9 811.2,1089.7 887.1,1172.6 963.2,1248.2" fill="none" stroke="#0000ff" stroke-width="3" stroke-linejoin="miter"/>
<rect x="654.6" y="982.3" width="10.2" height="10.2" fill="#0000ff"/>
<rect x="730.1" y="1020.8" width="10.2" height="10.2" fill="#0000ff"/>
<rect x="806.1" y="1084.6" width="10.2" height="10.2" fill="#0000ff"/>
<rect x="882.0" y="1167.5" width="10.2" height="10.2" fill="#0000ff"/>
<rect x="958.1" y="1243.1" width="10.2" height="10.2" fill="#0000ff"/>
<text transform="translate(564.7,1208.6) rotate(-90)" class="b" style="font-size:31px">H<tspan style="font-weight:normal;font-size:18.5px" dy="11.8">C</tspan><tspan dy="-11.8"> (kOe)</tspan></text>
<text x="811.45" y="1364.40" text-anchor="middle" class="b">Concentration(x)</text>
<text x="136.30" y="99.00" class="r" fill="#000" xml:space="preserve">x=0</text>
<text x="328.80" y="177.10" class="r" fill="#ff0000" xml:space="preserve">300 K</text>
<path d="M763,0L583,0L583,1147C540,1106 483,1064 413,1023C343,982 280,951 224,930L224,1104C325,1151 413,1208 489,1274C565,1340 619,1404 650,1466L763,1466Z" fill="#0000ff" transform="translate(377.20,314.60) scale(0.015381,-0.015381)"/><text x="394.72" y="314.60" class="r" fill="#0000ff" xml:space="preserve">0 K</text>
<text x="645.30" y="93.90" class="r" fill="#000" xml:space="preserve">x=0.25</text>
<text x="836.60" y="149.60" class="r" fill="#ff0000" xml:space="preserve">300 K</text>
<path d="M763,0L583,0L583,1147C540,1106 483,1064 413,1023C343,982 280,951 224,930L224,1104C325,1151 413,1208 489,1274C565,1340 619,1404 650,1466L763,1466Z" fill="#0000ff" transform="translate(894.20,309.30) scale(0.015381,-0.015381)"/><text x="911.72" y="309.30" class="r" fill="#0000ff" xml:space="preserve">0 K</text>
<text x="136.30" y="567.00" class="r" fill="#000" xml:space="preserve">x=0.5</text>
<text x="323.30" y="586.80" class="r" fill="#ff0000" xml:space="preserve">300 K</text>
<path d="M763,0L583,0L583,1147C540,1106 483,1064 413,1023C343,982 280,951 224,930L224,1104C325,1151 413,1208 489,1274C565,1340 619,1404 650,1466L763,1466Z" fill="#0000ff" transform="translate(361.40,765.00) scale(0.015381,-0.015381)"/><text x="378.92" y="765.00" class="r" fill="#0000ff" xml:space="preserve">0 K</text>
<text x="645.30" y="549.60" class="r" fill="#000" xml:space="preserve">x=0.75</text>
<text x="833.50" y="599.10" class="r" fill="#ff0000" xml:space="preserve">300 K</text>
<path d="M763,0L583,0L583,1147C540,1106 483,1064 413,1023C343,982 280,951 224,930L224,1104C325,1151 413,1208 489,1274C565,1340 619,1404 650,1466L763,1466Z" fill="#0000ff" transform="translate(848.10,778.00) scale(0.015381,-0.015381)"/><text x="865.62" y="778.00" class="r" fill="#0000ff" xml:space="preserve">0 K</text>
<text x="136.30" y="1040.00" class="r" fill="#000">x=</text><path d="M763,0L583,0L583,1147C540,1106 483,1064 413,1023C343,982 280,951 224,930L224,1104C325,1151 413,1208 489,1274C565,1340 619,1404 650,1466L763,1466Z" fill="#000" transform="translate(170.45,1040.00) scale(0.015381,-0.015381)"/>
<text x="384.30" y="1080.70" class="r" fill="#ff0000" xml:space="preserve">300 K</text>
<path d="M763,0L583,0L583,1147C540,1106 483,1064 413,1023C343,982 280,951 224,930L224,1104C325,1151 413,1208 489,1274C565,1340 619,1404 650,1466L763,1466Z" fill="#0000ff" transform="translate(390.90,1148.80) scale(0.015381,-0.015381)"/><text x="408.42" y="1148.80" class="r" fill="#0000ff" xml:space="preserve">0 K</text>
<path d="M763,0L583,0L583,1147C540,1106 483,1064 413,1023C343,982 280,951 224,930L224,1104C325,1151 413,1208 489,1274C565,1340 619,1404 650,1466L763,1466Z" fill="#0000ff" transform="translate(884.20,1034.80) scale(0.015381,-0.015381)"/><text x="901.72" y="1034.80" class="r" fill="#0000ff" xml:space="preserve">0 K</text>
</svg>
</body></html>
